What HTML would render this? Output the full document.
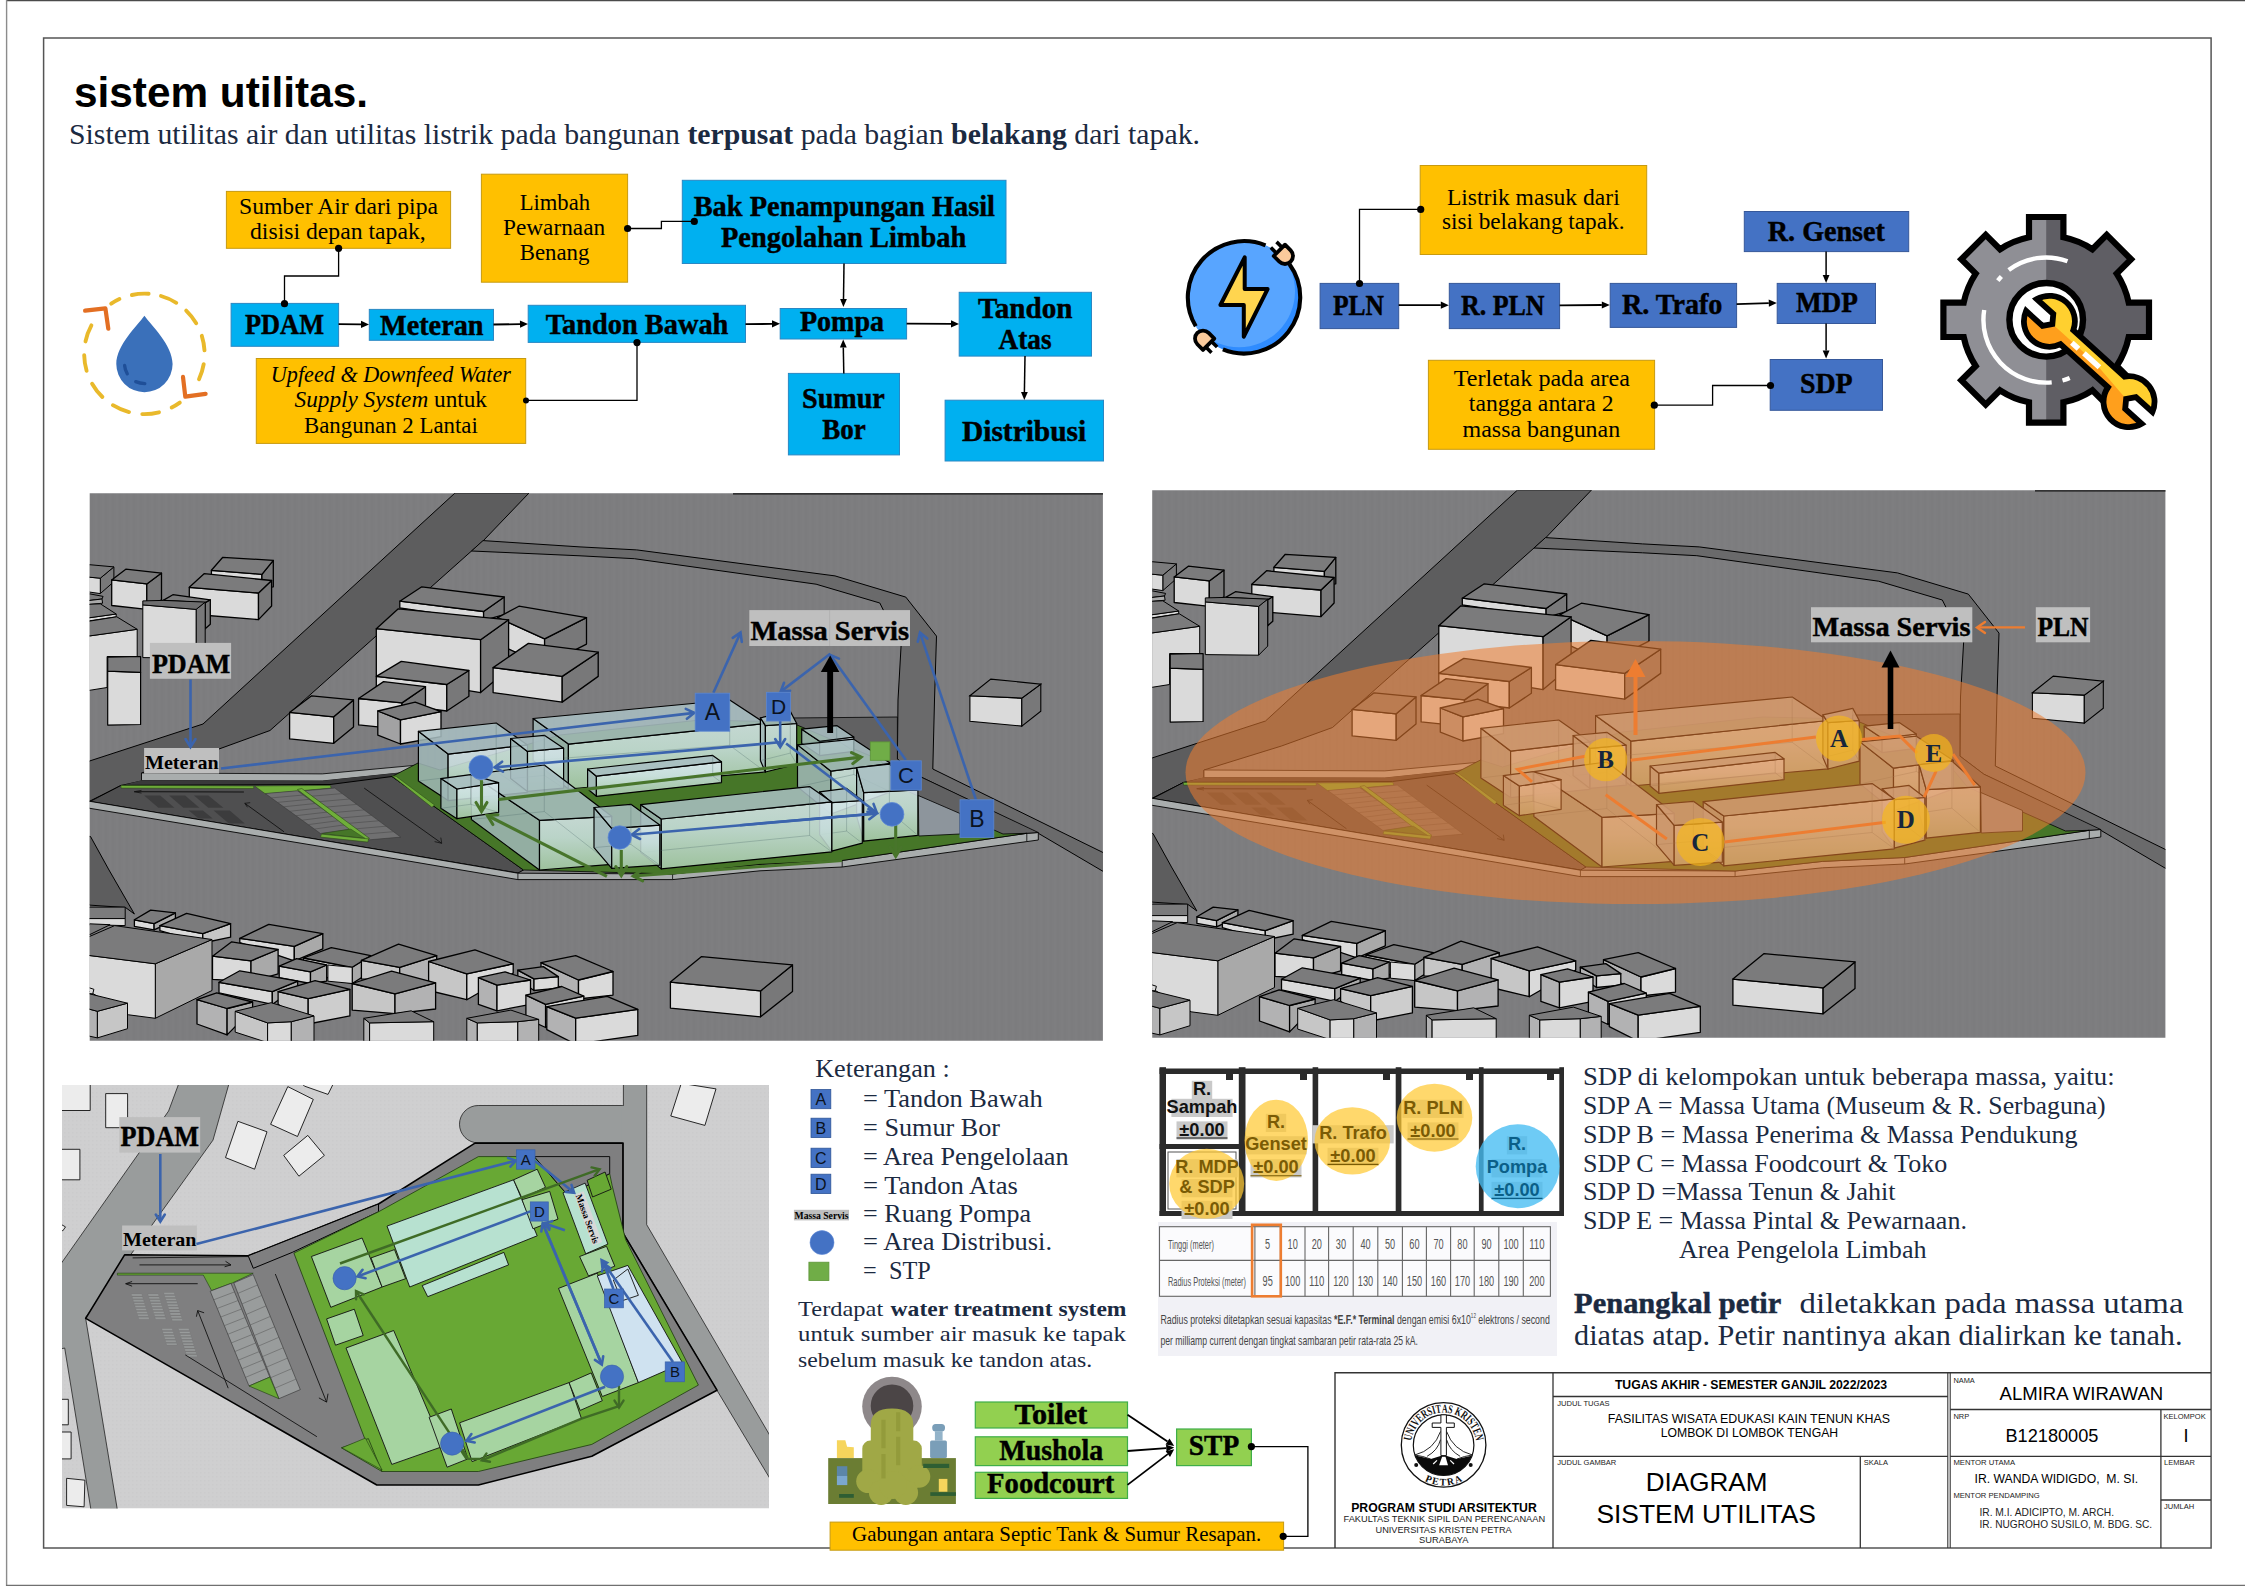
<!DOCTYPE html>
<html><head><meta charset="utf-8"><title>sistem utilitas</title>
<style>html,body{margin:0;padding:0;background:#fff}svg{display:block}text{white-space:pre}</style></head>
<body><svg width="2245" height="1587" viewBox="0 0 2245 1587">
<!-- sec_top -->
<rect x="0" y="0" width="2245" height="1587" fill="#fff"/>
<path d="M6,0.6 H2245" stroke="#4a4a4a" stroke-width="1.3" fill="none"/><path d="M6.6,0 V1586" stroke="#8c8c8c" stroke-width="1.4" fill="none"/><path d="M6,1585.4 H2245" stroke="#707070" stroke-width="1.4" fill="none"/>
<rect x="43.6" y="38" width="2167.5" height="1510" fill="none" stroke="#555" stroke-width="1.5"/>
<text x="74" y="107" fill="#000" font-family="Liberation Sans" font-size="42" font-weight="bold" textLength="294" lengthAdjust="spacingAndGlyphs" xml:space="preserve">sistem utilitas.</text>
<text x="69" y="143.5" fill="#1b2a41" font-family="Liberation Serif" font-size="28.5" textLength="1131" lengthAdjust="spacingAndGlyphs" xml:space="preserve">Sistem utilitas air dan utilitas listrik pada bangunan <tspan font-weight="bold">terpusat</tspan> pada bagian <tspan font-weight="bold">belakang</tspan> dari tapak.</text>
<rect x="226.4" y="191.4" width="224.2" height="56.9" fill="#FFC000" stroke="#c79a10" stroke-width="1"/>
<text x="239" y="214.4" fill="#000" font-family="Liberation Serif" font-size="22.8" textLength="199" lengthAdjust="spacingAndGlyphs" xml:space="preserve">Sumber Air dari pipa</text>
<text x="250" y="239.3" fill="#000" font-family="Liberation Serif" font-size="22.8" textLength="175.7" lengthAdjust="spacingAndGlyphs" xml:space="preserve">disisi depan tapak,</text>
<rect x="481.4" y="174.2" width="146.2" height="108" fill="#FFC000" stroke="#c79a10" stroke-width="1"/>
<text x="519.7" y="210" fill="#000" font-family="Liberation Serif" font-size="22.8" textLength="70.3" lengthAdjust="spacingAndGlyphs" xml:space="preserve">Limbah</text>
<text x="503" y="234.7" fill="#000" font-family="Liberation Serif" font-size="22.8" textLength="102.2" lengthAdjust="spacingAndGlyphs" xml:space="preserve">Pewarnaan</text>
<text x="519.7" y="260" fill="#000" font-family="Liberation Serif" font-size="22.8" textLength="69.7" lengthAdjust="spacingAndGlyphs" xml:space="preserve">Benang</text>
<rect x="256.3" y="358.5" width="269.4" height="84.9" fill="#FFC000" stroke="#c79a10" stroke-width="1"/>
<text x="270.8" y="382" fill="#000" font-family="Liberation Serif" font-size="22.8" font-style="italic" textLength="240.2" lengthAdjust="spacingAndGlyphs" xml:space="preserve">Upfeed &amp; Downfeed Water</text>
<text x="294.5" y="407.4" font-family="Liberation Serif" font-size="22.8" textLength="192.5" lengthAdjust="spacingAndGlyphs" xml:space="preserve"><tspan font-style="italic">Supply System</tspan> untuk</text>
<text x="304" y="432.9" fill="#000" font-family="Liberation Serif" font-size="22.8" textLength="173.8" lengthAdjust="spacingAndGlyphs" xml:space="preserve">Bangunan 2 Lantai</text>
<rect x="231.1" y="303.4" width="107.5" height="42.9" fill="#00B0F0" stroke="#2a88c4" stroke-width="1"/>
<text x="245" y="333.9" fill="#000" font-family="Liberation Serif" font-size="28.5" font-weight="bold" stroke="#000" stroke-width="0.45" textLength="79" lengthAdjust="spacingAndGlyphs" xml:space="preserve">PDAM</text>
<rect x="369.3" y="309.4" width="124.2" height="30.9" fill="#00B0F0" stroke="#2a88c4" stroke-width="1"/>
<text x="380" y="334.6" fill="#000" font-family="Liberation Serif" font-size="28.5" font-weight="bold" stroke="#000" stroke-width="0.45" textLength="103.5" lengthAdjust="spacingAndGlyphs" xml:space="preserve">Meteran</text>
<rect x="528.2" y="305.3" width="217.3" height="37.1" fill="#00B0F0" stroke="#2a88c4" stroke-width="1"/>
<text x="545.8" y="333.5" fill="#000" font-family="Liberation Serif" font-size="28.5" font-weight="bold" stroke="#000" stroke-width="0.45" textLength="182.6" lengthAdjust="spacingAndGlyphs" xml:space="preserve">Tandon Bawah</text>
<rect x="780.2" y="308.5" width="126.4" height="30.5" fill="#00B0F0" stroke="#2a88c4" stroke-width="1"/>
<text x="800" y="331.4" fill="#000" font-family="Liberation Serif" font-size="28.5" font-weight="bold" stroke="#000" stroke-width="0.45" textLength="84" lengthAdjust="spacingAndGlyphs" xml:space="preserve">Pompa</text>
<rect x="959.2" y="292.3" width="132.3" height="63.8" fill="#00B0F0" stroke="#2a88c4" stroke-width="1"/>
<text x="978" y="317.9" fill="#000" font-family="Liberation Serif" font-size="28.5" font-weight="bold" stroke="#000" stroke-width="0.45" textLength="94.4" lengthAdjust="spacingAndGlyphs" xml:space="preserve">Tandon</text>
<text x="998.6" y="349" fill="#000" font-family="Liberation Serif" font-size="28.5" font-weight="bold" stroke="#000" stroke-width="0.45" textLength="53" lengthAdjust="spacingAndGlyphs" xml:space="preserve">Atas</text>
<rect x="788.4" y="373.4" width="111.1" height="81.5" fill="#00B0F0" stroke="#2a88c4" stroke-width="1"/>
<text x="802" y="407.5" fill="#000" font-family="Liberation Serif" font-size="28.5" font-weight="bold" stroke="#000" stroke-width="0.45" textLength="82.8" lengthAdjust="spacingAndGlyphs" xml:space="preserve">Sumur</text>
<text x="822.2" y="439.3" fill="#000" font-family="Liberation Serif" font-size="28.5" font-weight="bold" stroke="#000" stroke-width="0.45" textLength="43.5" lengthAdjust="spacingAndGlyphs" xml:space="preserve">Bor</text>
<rect x="945.1" y="400.2" width="158.4" height="60.8" fill="#00B0F0" stroke="#2a88c4" stroke-width="1"/>
<text x="962" y="440.8" fill="#000" font-family="Liberation Serif" font-size="28.5" font-weight="bold" stroke="#000" stroke-width="0.45" textLength="124.2" lengthAdjust="spacingAndGlyphs" xml:space="preserve">Distribusi</text>
<rect x="682.3" y="180.3" width="323.7" height="83.2" fill="#00B0F0" stroke="#2a88c4" stroke-width="1"/>
<text x="693.7" y="215.9" fill="#000" font-family="Liberation Serif" font-size="29.5" font-weight="bold" stroke="#000" stroke-width="0.45" textLength="301.3" lengthAdjust="spacingAndGlyphs" xml:space="preserve">Bak Penampungan Hasil</text>
<text x="721" y="247.3" fill="#000" font-family="Liberation Serif" font-size="29.5" font-weight="bold" stroke="#000" stroke-width="0.45" textLength="245.2" lengthAdjust="spacingAndGlyphs" xml:space="preserve">Pengolahan Limbah</text>
<polyline points="338.6,248.3 338.6,276 284.5,276 284.5,303.7" fill="none" stroke="#000" stroke-width="1.3"/>
<circle cx="338.6" cy="248.3" r="3.6" fill="#000"/>
<circle cx="284.5" cy="303.7" r="3.6" fill="#000"/>
<polyline points="627.6,228.5 661.4,228.5 661.4,221.4 694.3,221.4" fill="none" stroke="#000" stroke-width="1.3"/>
<circle cx="627.6" cy="228.5" r="3.6" fill="#000"/>
<circle cx="694.3" cy="221.4" r="3.6" fill="#000"/>
<polyline points="525.7,400.4 637,400.4 637,342.6" fill="none" stroke="#000" stroke-width="1.3"/>
<circle cx="526" cy="400.4" r="3" fill="#000"/>
<circle cx="637" cy="342.6" r="3.6" fill="#000"/>
<polyline points="338.6,324.1 361,324.3" fill="none" stroke="#000" stroke-width="1.8"/>
<polygon points="369,324.4 361,327.9 361,320.7" fill="#000"/>
<polyline points="493.5,324.5 520,324.1" fill="none" stroke="#000" stroke-width="1.8"/>
<polygon points="528,324 520.1,327.7 519.9,320.5" fill="#000"/>
<polyline points="745.5,324.2 772,323.9" fill="none" stroke="#000" stroke-width="1.8"/>
<polygon points="780,323.8 772,327.5 772,320.3" fill="#000"/>
<polyline points="906.6,323.6 951,323.9" fill="none" stroke="#000" stroke-width="1.8"/>
<polygon points="959,323.9 951,327.5 951,320.3" fill="#000"/>
<polyline points="844,263.5 843.5,299" fill="none" stroke="#000" stroke-width="1.5"/>
<polygon points="843.4,307 840.1,299 846.9,299" fill="#000"/>
<polyline points="843.8,373.4 843.3,347.5" fill="none" stroke="#000" stroke-width="1.5"/>
<polygon points="843.2,339.5 846.7,347.4 839.9,347.6" fill="#000"/>
<polyline points="1025,356.1 1024.4,392" fill="none" stroke="#000" stroke-width="1.5"/>
<polygon points="1024.3,400 1021,391.9 1027.8,392.1" fill="#000"/>
<rect x="1420.2" y="165.5" width="226.5" height="89" fill="#FFC000" stroke="#c79a10" stroke-width="1"/>
<text x="1446.9" y="204.9" fill="#000" font-family="Liberation Serif" font-size="22.8" textLength="172.8" lengthAdjust="spacingAndGlyphs" xml:space="preserve">Listrik masuk dari</text>
<text x="1441.9" y="229.3" fill="#000" font-family="Liberation Serif" font-size="22.8" textLength="182.6" lengthAdjust="spacingAndGlyphs" xml:space="preserve">sisi belakang tapak.</text>
<rect x="1428.4" y="360.3" width="226.2" height="89" fill="#FFC000" stroke="#c79a10" stroke-width="1"/>
<text x="1453.8" y="386.2" fill="#000" font-family="Liberation Serif" font-size="22.8" textLength="176.2" lengthAdjust="spacingAndGlyphs" xml:space="preserve">Terletak pada area</text>
<text x="1468.8" y="411.4" fill="#000" font-family="Liberation Serif" font-size="22.8" textLength="144.7" lengthAdjust="spacingAndGlyphs" xml:space="preserve">tangga antara 2</text>
<text x="1462.6" y="437.4" fill="#000" font-family="Liberation Serif" font-size="22.8" textLength="157.6" lengthAdjust="spacingAndGlyphs" xml:space="preserve">massa bangunan</text>
<rect x="1320.1" y="283.4" width="78.6" height="45.2" fill="#4472C4" stroke="#36589a" stroke-width="1"/>
<text x="1332.9" y="314.6" fill="#000" font-family="Liberation Serif" font-size="28.5" font-weight="bold" stroke="#000" stroke-width="0.45" textLength="51.1" lengthAdjust="spacingAndGlyphs" xml:space="preserve">PLN</text>
<rect x="1449.3" y="283.4" width="110.3" height="45.2" fill="#4472C4" stroke="#36589a" stroke-width="1"/>
<text x="1461" y="314.6" fill="#000" font-family="Liberation Serif" font-size="28.5" font-weight="bold" stroke="#000" stroke-width="0.45" textLength="83.6" lengthAdjust="spacingAndGlyphs" xml:space="preserve">R. PLN</text>
<rect x="1610.2" y="283.4" width="126.4" height="44" fill="#4472C4" stroke="#36589a" stroke-width="1"/>
<text x="1621.9" y="314.4" fill="#000" font-family="Liberation Serif" font-size="28.5" font-weight="bold" stroke="#000" stroke-width="0.45" textLength="100.5" lengthAdjust="spacingAndGlyphs" xml:space="preserve">R. Trafo</text>
<rect x="1744.3" y="211.5" width="164.4" height="40.1" fill="#4472C4" stroke="#36589a" stroke-width="1"/>
<text x="1767.8" y="240.9" fill="#000" font-family="Liberation Serif" font-size="28.5" font-weight="bold" stroke="#000" stroke-width="0.45" textLength="117.1" lengthAdjust="spacingAndGlyphs" xml:space="preserve">R. Genset</text>
<rect x="1777.2" y="283.4" width="98.3" height="40.1" fill="#4472C4" stroke="#36589a" stroke-width="1"/>
<text x="1795.9" y="312.2" fill="#000" font-family="Liberation Serif" font-size="28.5" font-weight="bold" stroke="#000" stroke-width="0.45" textLength="62" lengthAdjust="spacingAndGlyphs" xml:space="preserve">MDP</text>
<rect x="1770.2" y="359.5" width="112.3" height="50.8" fill="#4472C4" stroke="#36589a" stroke-width="1"/>
<text x="1799.9" y="393.2" fill="#000" font-family="Liberation Serif" font-size="28.5" font-weight="bold" stroke="#000" stroke-width="0.45" textLength="52.7" lengthAdjust="spacingAndGlyphs" xml:space="preserve">SDP</text>
<polyline points="1420.7,209.4 1359.5,209.4 1359.5,283.5" fill="none" stroke="#000" stroke-width="1.3"/>
<circle cx="1420.7" cy="209.4" r="3.6" fill="#000"/>
<circle cx="1359.5" cy="283.5" r="3.6" fill="#000"/>
<polyline points="1654.3,405.2 1712.6,405.2 1712.6,385.5 1770.5,385.5" fill="none" stroke="#000" stroke-width="1.3"/>
<circle cx="1654.3" cy="405.2" r="3.6" fill="#000"/>
<circle cx="1770.5" cy="385.5" r="3.6" fill="#000"/>
<polyline points="1398.7,305.2 1440.8,305.2" fill="none" stroke="#000" stroke-width="1.8"/>
<polygon points="1448.8,305.2 1440.8,308.8 1440.8,301.6" fill="#000"/>
<polyline points="1559.6,305.4 1601.8,305" fill="none" stroke="#000" stroke-width="1.8"/>
<polygon points="1609.8,304.9 1601.8,308.6 1601.8,301.4" fill="#000"/>
<polyline points="1736.6,304.2 1768.8,303.2" fill="none" stroke="#000" stroke-width="1.8"/>
<polygon points="1776.8,302.9 1768.9,306.8 1768.7,299.6" fill="#000"/>
<polyline points="1826.1,251.6 1826.1,274.9" fill="none" stroke="#000" stroke-width="1.5"/>
<polygon points="1826.1,282.9 1822.7,274.9 1829.5,274.9" fill="#000"/>
<polyline points="1826.1,323.5 1826.1,350.6" fill="none" stroke="#000" stroke-width="1.5"/>
<polygon points="1826.1,358.6 1822.7,350.6 1829.5,350.6" fill="#000"/>
<!-- sec_icons -->
<path d="M131.9,295 A60.2,60.2 0 0 1 148.6,293.8 M161,296 A60.2,60.2 0 0 1 176.3,302.8 M186.2,310.6 A60.2,60.2 0 0 1 196.2,323.3 M201.8,335.8 A60.2,60.2 0 0 1 204.5,350.4 M203.7,364.1 A60.2,60.2 0 0 1 199,379.2 M179.8,402.6 A60.2,60.2 0 0 1 171.7,407.5 M159,412.3 A60.2,60.2 0 0 1 142.3,414.1 M129,412.1 A60.2,60.2 0 0 1 112.9,405.2 M102.4,397 A60.2,60.2 0 0 1 92.1,383.7 M86.6,370.8 A60.2,60.2 0 0 1 84.2,355.2 M85.5,341.4 A60.2,60.2 0 0 1 91.4,325.4 M111.2,303.7 A60.2,60.2 0 0 1 119.4,299.1" fill="none" stroke="#E9B92B" stroke-width="3.9" stroke-linecap="round"/>
<path d="M85.1,310.7 L105.4,308.4 L108.3,328.7 M183,376.9 L185.3,396.7 L205.6,393.9" fill="none" stroke="#E36F23" stroke-width="4.2" stroke-linecap="round" stroke-linejoin="round"/>
<path d="M144.4,315.7 C151,325 172.6,345 172.6,364 A28.1,28.1 0 0 1 116.3,364 C116.3,345 138,325 144.4,315.7 Z" fill="#3A70BA"/>
<path d="M124.6,365.5 Q125,370 127.3,373.8 M135.7,381.6 Q140,383.3 144.8,383.6" fill="none" stroke="#1F4F98" stroke-width="3.3" stroke-linecap="round"/>
<clipPath id="ecl"><circle cx="1244" cy="297.3" r="56.2"/></clipPath>
<circle cx="1244" cy="297.3" r="56.2" fill="#2F8CFF"/>
<circle cx="1239" cy="291.3" r="56" fill="#58A5FF" clip-path="url(#ecl)"/>
<path d="M1195.8,326.2 A56.2,56.2 0 0 1 1265.5,245.4 M1289.5,264.3 A56.2,56.2 0 0 1 1222.9,349.4" fill="none" stroke="#000" stroke-width="4.1"/>
<path d="M1244.7,257.3 L1244.7,289.1 L1267.6,289.1 L1243.8,336.7 L1243.8,305 L1220.4,305 Z" fill="#FFD54F" stroke="#000" stroke-width="4" stroke-linejoin="round"/>
<g transform="translate(1285,256) rotate(45)"><path d="M-8,-4 L-16,-4 M-8,4 L-16,4" stroke="#000" stroke-width="3.6" fill="none"/><path d="M-8,-8 L0,-8 A8,8 0 0 1 0,8 L-8,8 Z" fill="#FBCB9C" stroke="#000" stroke-width="3.8" stroke-linejoin="round"/></g>
<g transform="translate(1203,338.6) rotate(225)"><path d="M-8,-4 L-16,-4 M-8,4 L-16,4" stroke="#000" stroke-width="3.6" fill="none"/><path d="M-8,-8 L0,-8 A8,8 0 0 1 0,8 L-8,8 Z" fill="#FBCB9C" stroke="#000" stroke-width="3.8" stroke-linejoin="round"/></g>
<clipPath id="gl"><rect x="1900" y="180" width="146.2" height="280"/></clipPath>
<path d="M2029,237.3 L2029,217 L2063.4,217 L2063.4,237.3 A84.3,84.3 0 0 1 2092.4,249.3 L2106.7,234.9 L2131.1,259.3 L2116.7,273.6 A84.3,84.3 0 0 1 2128.7,302.6 L2149,302.6 L2149,337 L2128.7,337 A84.3,84.3 0 0 1 2116.7,366 L2131.1,380.3 L2106.7,404.7 L2092.4,390.3 A84.3,84.3 0 0 1 2063.4,402.3 L2063.4,422.6 L2029,422.6 L2029,402.3 A84.3,84.3 0 0 1 2000,390.3 L1985.7,404.7 L1961.3,380.3 L1975.7,366 A84.3,84.3 0 0 1 1963.7,337 L1943.4,337 L1943.4,302.6 L1963.7,302.6 A84.3,84.3 0 0 1 1975.7,273.6 L1961.3,259.3 L1985.7,234.9 L2000,249.3 A84.3,84.3 0 0 1 2029,237.3 Z" fill="#5F5E64"/>
<path d="M2029,237.3 L2029,217 L2063.4,217 L2063.4,237.3 A84.3,84.3 0 0 1 2092.4,249.3 L2106.7,234.9 L2131.1,259.3 L2116.7,273.6 A84.3,84.3 0 0 1 2128.7,302.6 L2149,302.6 L2149,337 L2128.7,337 A84.3,84.3 0 0 1 2116.7,366 L2131.1,380.3 L2106.7,404.7 L2092.4,390.3 A84.3,84.3 0 0 1 2063.4,402.3 L2063.4,422.6 L2029,422.6 L2029,402.3 A84.3,84.3 0 0 1 2000,390.3 L1985.7,404.7 L1961.3,380.3 L1975.7,366 A84.3,84.3 0 0 1 1963.7,337 L1943.4,337 L1943.4,302.6 L1963.7,302.6 A84.3,84.3 0 0 1 1975.7,273.6 L1961.3,259.3 L1985.7,234.9 L2000,249.3 A84.3,84.3 0 0 1 2029,237.3 Z" fill="#8F8F95" clip-path="url(#gl)"/>
<path d="M2029,237.3 L2029,217 L2063.4,217 L2063.4,237.3 A84.3,84.3 0 0 1 2092.4,249.3 L2106.7,234.9 L2131.1,259.3 L2116.7,273.6 A84.3,84.3 0 0 1 2128.7,302.6 L2149,302.6 L2149,337 L2128.7,337 A84.3,84.3 0 0 1 2116.7,366 L2131.1,380.3 L2106.7,404.7 L2092.4,390.3 A84.3,84.3 0 0 1 2063.4,402.3 L2063.4,422.6 L2029,422.6 L2029,402.3 A84.3,84.3 0 0 1 2000,390.3 L1985.7,404.7 L1961.3,380.3 L1975.7,366 A84.3,84.3 0 0 1 1963.7,337 L1943.4,337 L1943.4,302.6 L1963.7,302.6 A84.3,84.3 0 0 1 1975.7,273.6 L1961.3,259.3 L1985.7,234.9 L2000,249.3 A84.3,84.3 0 0 1 2029,237.3 Z" fill="none" stroke="#000" stroke-width="6.2" stroke-linejoin="miter"/>
<path d="M1997.8,280.6 A62.3,62.3 0 0 1 2001.4,276.5 M2008.7,270 A62.3,62.3 0 0 1 2067.5,261.3 M2051.7,382.4 A62.8,62.8 0 0 1 1984.2,310 M2069.7,378 A62.8,62.8 0 0 1 2062.5,380.5" fill="none" stroke="#fff" stroke-width="4.4"/>
<circle cx="2046.2" cy="319.8" r="36.8" fill="#fff" stroke="#000" stroke-width="6.4"/>
<g transform="translate(2049.4,321.3) rotate(42.2)"><clipPath id="wy"><polygon points="-40,-40 180,-40 180,6 109,6 60,0 -40,0"/></clipPath><path d="M-24.2,-8 A25.5,25.5 0 0 1 23.66,-9.5 L92.8,-9.5 A25.5,25.5 0 0 1 137.2,-2 L115,-2 L109,6 L115,14 L137.2,14 A25.5,25.5 0 0 1 87.7,9.5 L23.66,9.5 A25.5,25.5 0 0 1 -24.2,8 L-2,8 L4,0 L-2,-8 Z" fill="#FF9F1C"/><path d="M-24.2,-8 A25.5,25.5 0 0 1 23.66,-9.5 L92.8,-9.5 A25.5,25.5 0 0 1 137.2,-2 L115,-2 L109,6 L115,14 L137.2,14 A25.5,25.5 0 0 1 87.7,9.5 L23.66,9.5 A25.5,25.5 0 0 1 -24.2,8 L-2,8 L4,0 L-2,-8 Z" fill="#FFD02F" clip-path="url(#wy)"/><path d="M31,0.8 L40,0.8 M47,0.5 L68,0.5" stroke="#fff" stroke-width="5.4" fill="none"/><path d="M-24.2,-8 A25.5,25.5 0 0 1 23.66,-9.5 L92.8,-9.5 A25.5,25.5 0 0 1 137.2,-2 L115,-2 L109,6 L115,14 L137.2,14 A25.5,25.5 0 0 1 87.7,9.5 L23.66,9.5 A25.5,25.5 0 0 1 -24.2,8 L-2,8 L4,0 L-2,-8 Z" fill="none" stroke="#000" stroke-width="5.8" stroke-linejoin="miter"/></g>
<!-- sec_scene -->
<defs><pattern id="vst" width="7" height="8" patternUnits="userSpaceOnUse"><rect x="0" y="0" width="2.5" height="8" fill="#000" opacity="0.008"/><rect x="4" y="0" width="1.5" height="8" fill="#fff" opacity="0.007"/></pattern>
<linearGradient id="gfr" x1="0" y1="0" x2="0" y2="1"><stop offset="0" stop-color="#d9e8ee"/><stop offset="0.4" stop-color="#cde3e2"/><stop offset="1" stop-color="#acceb0"/></linearGradient>
<clipPath id="sclip"><rect x="89.7" y="493.3" width="1013.2" height="547.4"/></clipPath>
<g id="scn">
<rect x="89" y="492" width="1015" height="550" fill="#7d7d7f"/>
<rect x="89" y="492" width="1015" height="550" fill="url(#vst)"/>
<polygon points="455,493 529,493 483,541 471.5,551 270,730.5 219,749 141.5,773 141.5,781 121,785.5 88,802 88,761.5 203,724" fill="#5d5d5e" stroke="#000" stroke-width="1"/>
<polygon points="483,540.6 580,546.9 636.7,549.9 835,575.9 905.8,597.1 936.5,636.1 934.5,700 932.8,769 1105,853.5 1105,872.5 1038.3,833.3 921.3,777.2 897.4,759.1 898,700 901.1,645.5 879.8,603 816.1,584.2 634.3,558.7 580,555.8 471.5,551" fill="#6a6a6b" stroke="#000" stroke-width="1"/>
<polygon points="88,836 90.5,836.5 109,870 134.4,914 125.5,907.5 88,905" fill="#5d5d5e" stroke="#000" stroke-width="1"/>
<polygon points="141.5,773 322.3,773.9 418.5,765 418.5,771 322.3,781 141.5,780.5" fill="#a9adad" stroke="#000" stroke-width="0.8"/>
<polygon points="121,785.8 141.5,780.2 322.3,780.7 418.5,770.7 434,777 392,777.5 330,785.2" fill="#39393a"/>
<polygon points="90,801.5 121,785.4 330,784.5 392,776.5 433.7,806 523.5,870 518,873 400,853.2" fill="#4f4f50" stroke="#000" stroke-width="1"/>
<polygon points="88,801 400,853.2 517.9,873.2 672.6,874 760,864.4 842.2,860.5 1026.8,833.3 1038.3,832.5 1038.3,840 842.2,867 760,870.8 672.6,879.6 517.9,879.6 400,859.6 88,808" fill="#a9adad" stroke="#000" stroke-width="0.9"/>
<polyline points="517.9,873.2 517.9,879.6" fill="none" stroke="#000" stroke-width="0.8"/>
<polyline points="672.6,874 672.6,879.6" fill="none" stroke="#000" stroke-width="0.8"/>
<polyline points="842.2,860.5 842.2,867" fill="none" stroke="#000" stroke-width="0.8"/>
<polyline points="1026.8,833.3 1026.8,841" fill="none" stroke="#000" stroke-width="0.8"/>
<polygon points="790,718 897.4,717 897.4,759.1 921.3,777.2 1038.3,832.5 1026.8,833.3 1000,836 880,790 790,745" fill="#616162" stroke="#000" stroke-width="0.8"/>
<polygon points="392,776.5 418,763 440,770 560,735 700,720 790,722 880,760 905,790 960,815 1003,834 1026.8,833.3 842.2,860.5 760,864.4 672.6,874 523.5,870" fill="#467628" stroke="#000" stroke-width="0.8"/>
<polygon points="121,785.4 253.7,786 253.7,788.5 121,788.1" fill="#6fae3a" stroke="#2d4d18" stroke-width="0.6"/>
<polygon points="254.6,786 330.3,785.4 331.2,788.1 265.3,793.8" fill="#6fae3a" stroke="#2d4d18" stroke-width="0.6"/>
<polygon points="265.3,793.5 297.4,790.8 350.8,829.1 320.5,833.5" fill="#707071" stroke="#333" stroke-width="0.5"/>
<polygon points="304.5,790.8 334.8,788.1 400.7,837.1 369.5,839.8" fill="#707071" stroke="#333" stroke-width="0.5"/>
<polyline points="271.4,797.9 303.3,795" fill="none" stroke="#444" stroke-width="0.5"/>
<polyline points="311.7,796.2 342.1,793.6" fill="none" stroke="#444" stroke-width="0.5"/>
<polyline points="277.6,802.4 309.3,799.3" fill="none" stroke="#444" stroke-width="0.5"/>
<polyline points="319,801.7 349.4,799" fill="none" stroke="#444" stroke-width="0.5"/>
<polyline points="283.7,806.8 315.2,803.5" fill="none" stroke="#444" stroke-width="0.5"/>
<polyline points="326.2,807.1 356.8,804.4" fill="none" stroke="#444" stroke-width="0.5"/>
<polyline points="289.8,811.3 321.1,807.8" fill="none" stroke="#444" stroke-width="0.5"/>
<polyline points="333.4,812.6 364.1,809.9" fill="none" stroke="#444" stroke-width="0.5"/>
<polyline points="296,815.7 327.1,812.1" fill="none" stroke="#444" stroke-width="0.5"/>
<polyline points="340.6,818 371.4,815.3" fill="none" stroke="#444" stroke-width="0.5"/>
<polyline points="302.1,820.2 333,816.3" fill="none" stroke="#444" stroke-width="0.5"/>
<polyline points="347.9,823.4 378.7,820.8" fill="none" stroke="#444" stroke-width="0.5"/>
<polyline points="308.3,824.6 338.9,820.6" fill="none" stroke="#444" stroke-width="0.5"/>
<polyline points="355.1,828.9 386.1,826.2" fill="none" stroke="#444" stroke-width="0.5"/>
<polyline points="314.4,829.1 344.9,824.8" fill="none" stroke="#444" stroke-width="0.5"/>
<polyline points="362.3,834.3 393.4,831.7" fill="none" stroke="#444" stroke-width="0.5"/>
<polygon points="297.4,789.5 301.8,788.5 369.5,838.4 365.1,841.2" fill="#6fae3a" stroke="#2d4d18" stroke-width="0.6"/>
<polygon points="322.3,833.5 350.8,829.1 365.1,838.4" fill="#467628" stroke="#2d4d18" stroke-width="0.5"/>
<polygon points="321.4,834.1 368.6,838.9 367.8,842.1 320.5,837.1" fill="#6fae3a" stroke="#2d4d18" stroke-width="0.6"/>
<polygon points="391.8,775.6 396.3,776.5 434.6,805 431.9,807.3" fill="#6fae3a" stroke="#2d4d18" stroke-width="0.6"/>
<polygon points="144.1,795.6 160.2,795.6 174.4,807.7 158.4,807.7" fill="#3c3c3d"/>
<polygon points="169.1,795.6 185.1,795.6 199.4,807.7 183.3,807.7" fill="#3c3c3d"/>
<polygon points="194,795.6 208.3,795.6 223.4,807.7 208.3,807.7" fill="#3c3c3d"/>
<polygon points="188.7,810.4 202.9,810.4 212.7,818.4 198.5,818.4" fill="#3c3c3d"/>
<polygon points="213.6,810.4 229.7,810.4 244.8,823.4 228.8,823.4" fill="#3c3c3d"/>
<polyline points="134.3,791.7 243.9,792" fill="none" stroke="#111" stroke-width="1"/>
<polyline points="141.5,790.4 134.3,791.7 141.5,793.1" fill="none" stroke="#111" stroke-width="0.8"/>
<polyline points="284,831.8 244.8,803.3" fill="none" stroke="#111" stroke-width="0.9"/>
<polyline points="247.5,807.3 244.8,803.3 250.2,802.7" fill="none" stroke="#111" stroke-width="0.8"/>
<polyline points="364.2,788.1 441.7,843.3" fill="none" stroke="#111" stroke-width="0.9"/>
<polyline points="434.6,841.6 441.7,843.3 440.8,837.6" fill="none" stroke="#111" stroke-width="0.8"/>
<polygon points="100.3,578.2 113.9,566.9 113.9,581.7 100.3,593.6" fill="#787879" stroke="#000" stroke-width="1"/>
<polygon points="88.4,577.1 100.3,578.2 100.3,593.6 88.4,591.9" fill="#dadada" stroke="#000" stroke-width="1"/>
<polygon points="88.4,564.6 113.9,566.9 100.3,578.2 88.4,577.1" fill="#7b7b7c" stroke="#000" stroke-width="1"/>
<polygon points="88.4,593.6 103.1,596.4 102,599 88.4,600.6" fill="#7b7b7c" stroke="#000" stroke-width="1"/>
<polygon points="88.4,600.6 102,599 102.6,603.2 88.4,604.6" fill="#a9a9a9" stroke="#000" stroke-width="1"/>
<polygon points="111.7,579.9 146.8,583.9 146.8,609.4 111.7,605.5" fill="#dadada" stroke="#000" stroke-width="1.3" stroke-linejoin="round"/>
<polygon points="146.8,583.9 161.5,573.1 161.5,599.8 146.8,609.4" fill="#787879" stroke="#000" stroke-width="1.3" stroke-linejoin="round"/>
<polygon points="111.7,579.9 125.8,569.2 161.5,573.1 146.8,583.9" fill="#7b7b7c" stroke="#000" stroke-width="1.3" stroke-linejoin="round"/>
<polygon points="211.4,570.3 261.9,574.3 261.9,587.9 211.4,577.1" fill="#dadada" stroke="#000" stroke-width="1.3" stroke-linejoin="round"/>
<polygon points="261.9,574.3 273.3,560.4 273.3,586.8 261.9,587.9" fill="#787879" stroke="#000" stroke-width="1.3" stroke-linejoin="round"/>
<polygon points="211.4,570.3 222.8,557.3 273.3,560.4 261.9,574.3" fill="#7b7b7c" stroke="#000" stroke-width="1.3" stroke-linejoin="round"/>
<polygon points="189.3,587.3 258.5,593 258.5,619.6 189.3,614" fill="#dadada" stroke="#000" stroke-width="1.3" stroke-linejoin="round"/>
<polygon points="258.5,593 271.6,580.5 271.6,606 258.5,619.6" fill="#787879" stroke="#000" stroke-width="1.3" stroke-linejoin="round"/>
<polygon points="189.3,587.3 204.1,573.7 271.6,580.5 258.5,593" fill="#7b7b7c" stroke="#000" stroke-width="1.3" stroke-linejoin="round"/>
<polygon points="163.2,600.4 205.2,602.6 205.2,628.7 163.2,626.4" fill="#dadada" stroke="#000" stroke-width="1.3" stroke-linejoin="round"/>
<polygon points="205.2,602.6 210.3,599.8 210.3,624.2 205.2,628.7" fill="#787879" stroke="#000" stroke-width="1.3" stroke-linejoin="round"/>
<polygon points="163.2,600.4 172.9,594.7 210.3,599.8 205.2,602.6" fill="#7b7b7c" stroke="#000" stroke-width="1.3" stroke-linejoin="round"/>
<polygon points="196.1,609.4 205.2,602.1 205.2,649.1 196.1,658.2" fill="#787879" stroke="#000" stroke-width="1"/>
<polygon points="142.8,604.9 196.1,609.4 196.1,658.2 142.8,657.6" fill="#dadada" stroke="#000" stroke-width="1"/>
<polygon points="142.8,600.9 163.2,600.4 205.2,602.1 196.1,609.4 142.8,604.9" fill="#6e6e6f" stroke="#000" stroke-width="1"/>
<polygon points="88.4,617.9 116.2,614 116.2,616.8 88.4,621" fill="#dadada" stroke="#000" stroke-width="1"/>
<polygon points="88.4,604.3 100.3,603.8 116.2,614 88.4,617.9" fill="#7b7b7c" stroke="#000" stroke-width="1"/>
<polygon points="88.4,636.1 137.2,629.3 137.2,656.5 107.1,656.5 107.1,687.5 88.4,690.5" fill="#dadada" stroke="#000" stroke-width="1"/>
<polygon points="88.4,621.3 116.8,616.8 137.2,629.3 88.4,636.1" fill="#7b7b7c" stroke="#000" stroke-width="1"/>
<polygon points="107.7,671.2 140.6,672.4 140.6,724.5 107.7,725.1" fill="#dadada" stroke="#000" stroke-width="1.2" stroke-linejoin="round"/>
<polygon points="107.7,657.1 140.6,656.5 140.6,672.4 107.7,671.2" fill="#7b7b7c" stroke="#000" stroke-width="1.2" stroke-linejoin="round"/>
<polygon points="399.8,601.2 483.6,611.5 483.6,620.3 399.8,607.8" fill="#dadada" stroke="#000" stroke-width="1.3" stroke-linejoin="round"/>
<polygon points="483.6,611.5 504.2,597 504.2,614.7 483.6,620.3" fill="#787879" stroke="#000" stroke-width="1.3" stroke-linejoin="round"/>
<polygon points="399.8,601.2 421.8,586.8 504.2,597 483.6,611.5" fill="#7b7b7c" stroke="#000" stroke-width="1.3" stroke-linejoin="round"/>
<polygon points="497.6,617.6 544.6,638.9 544.6,665.4 497.6,644.1" fill="#dadada" stroke="#000" stroke-width="1.3" stroke-linejoin="round"/>
<polygon points="544.6,638.9 586.5,617.6 586.5,644.1 544.6,665.4" fill="#787879" stroke="#000" stroke-width="1.3" stroke-linejoin="round"/>
<polygon points="497.6,617.6 518.9,606.2 586.5,617.6 544.6,638.9" fill="#7b7b7c" stroke="#000" stroke-width="1.3" stroke-linejoin="round"/>
<polygon points="376.3,628.7 480.6,639.7 480.6,692.6 376.3,675.7" fill="#dadada" stroke="#000" stroke-width="1.3" stroke-linejoin="round"/>
<polygon points="480.6,639.7 508.6,619.8 508.6,669.1 480.6,692.6" fill="#787879" stroke="#000" stroke-width="1.3" stroke-linejoin="round"/>
<polygon points="376.3,628.7 398.3,608.8 508.6,619.8 480.6,639.7" fill="#7b7b7c" stroke="#000" stroke-width="1.3" stroke-linejoin="round"/>
<polygon points="493.1,667.6 562.2,676.4 562.2,702.1 493.1,692.6" fill="#dadada" stroke="#000" stroke-width="1.3" stroke-linejoin="round"/>
<polygon points="562.2,676.4 598.2,652.2 598.2,676.4 562.2,702.1" fill="#787879" stroke="#000" stroke-width="1.3" stroke-linejoin="round"/>
<polygon points="493.1,667.6 528.4,643.4 598.2,652.2 562.2,676.4" fill="#7b7b7c" stroke="#000" stroke-width="1.3" stroke-linejoin="round"/>
<polygon points="376.3,676.4 446.8,684.5 446.8,711 376.3,702.1" fill="#dadada" stroke="#000" stroke-width="1.3" stroke-linejoin="round"/>
<polygon points="446.8,684.5 468.9,670.5 468.9,696.3 446.8,711" fill="#787879" stroke="#000" stroke-width="1.3" stroke-linejoin="round"/>
<polygon points="376.3,676.4 401.3,661.4 468.9,670.5 446.8,684.5" fill="#7b7b7c" stroke="#000" stroke-width="1.3" stroke-linejoin="round"/>
<polygon points="358.6,698.5 402,702.9 402,729.3 358.6,724.9" fill="#dadada" stroke="#000" stroke-width="1.3" stroke-linejoin="round"/>
<polygon points="402,702.9 425.5,686.7 425.5,705.1 402,729.3" fill="#787879" stroke="#000" stroke-width="1.3" stroke-linejoin="round"/>
<polygon points="358.6,698.5 383.6,681.6 425.5,686.7 402,702.9" fill="#7b7b7c" stroke="#000" stroke-width="1.3" stroke-linejoin="round"/>
<polygon points="377.8,711 400.5,719.8 400.5,744 377.8,735.2" fill="#a2a2a3" stroke="#000" stroke-width="1.3" stroke-linejoin="round"/>
<polygon points="400.5,719.8 441,711.7 441,736.7 400.5,744" fill="#dadada" stroke="#000" stroke-width="1.3" stroke-linejoin="round"/>
<polygon points="377.8,711 415.2,702.1 441,711.7 400.5,719.8" fill="#7b7b7c" stroke="#000" stroke-width="1.3" stroke-linejoin="round"/>
<polygon points="289.6,712.4 333.7,716.8 333.7,743.3 289.6,738.9" fill="#dadada" stroke="#000" stroke-width="1.3" stroke-linejoin="round"/>
<polygon points="333.7,716.8 353.5,699.9 353.5,727.1 333.7,743.3" fill="#787879" stroke="#000" stroke-width="1.3" stroke-linejoin="round"/>
<polygon points="289.6,712.4 311.6,695.8 353.5,699.9 333.7,716.8" fill="#7b7b7c" stroke="#000" stroke-width="1.3" stroke-linejoin="round"/>
<polygon points="969.9,695.7 1021.8,698.1 1021.8,726.1 969.9,721.2" fill="#dadada" stroke="#000" stroke-width="1.1"/>
<polygon points="1021.8,698.1 1040.8,684.1 1040.8,711.3 1021.8,726.1" fill="#787879" stroke="#000" stroke-width="1.1"/>
<polygon points="969.9,695.7 990.8,679.1 1040.8,684.1 1021.8,698.1" fill="#7b7b7c" stroke="#000" stroke-width="1.1"/>
<g fill-opacity="0.86">
<polygon points="533.1,718.5 568.4,744.1 568.4,789 533.1,760.5" fill="#9fb7b7" stroke="#000" stroke-width="1.2" stroke-linejoin="round"/>
<polygon points="568.4,744.1 765.5,723.5 765.5,771.9 568.4,789" fill="url(#gfr)" stroke="#000" stroke-width="1.2" stroke-linejoin="round"/>
<polygon points="533.1,718.5 729.7,700 765.5,723.5 568.4,744.1" fill="#a9bfc3" stroke="#000" stroke-width="1.2" stroke-linejoin="round"/>
</g>
<path d="M729.7,700 L729.7,745.3 L533.1,760.5 M729.7,745.3 L765.5,771.9" fill="none" stroke="#4f6b6b" stroke-opacity="0.45" stroke-width="0.7"/>
<g fill-opacity="0.86">
<polygon points="760.4,717.8 765.4,725.6 765.4,772 760.4,760.6" fill="#9fb7b7" stroke="#000" stroke-width="1.2" stroke-linejoin="round"/>
<polygon points="765.4,725.6 796.7,723.5 796.7,764.1 765.4,772" fill="url(#gfr)" stroke="#000" stroke-width="1.2" stroke-linejoin="round"/>
<polygon points="760.4,717.8 790.3,711.4 796.7,723.5 765.4,725.6" fill="#a9bfc3" stroke="#000" stroke-width="1.2" stroke-linejoin="round"/>
</g>
<path d="M790.3,711.4 L790.3,753.1 L760.4,760.6 M790.3,753.1 L796.7,764.1" fill="none" stroke="#4f6b6b" stroke-opacity="0.45" stroke-width="0.7"/>
<g fill-opacity="0.86">
<polygon points="801.7,729.2 819.6,741.3 819.6,755.6 801.7,743.5" fill="#9fb7b7" stroke="#000" stroke-width="1.2" stroke-linejoin="round"/>
<polygon points="819.6,741.3 853.8,737 853.8,751.3 819.6,755.6" fill="url(#gfr)" stroke="#000" stroke-width="1.2" stroke-linejoin="round"/>
<polygon points="801.7,729.2 836.7,725.6 853.8,737 819.6,741.3" fill="#a9bfc3" stroke="#000" stroke-width="1.2" stroke-linejoin="round"/>
</g>
<path d="M836.7,725.6 L836.7,739.9 L801.7,743.5 M836.7,739.9 L853.8,751.3" fill="none" stroke="#4f6b6b" stroke-opacity="0.45" stroke-width="0.7"/>
<g fill-opacity="0.86">
<polygon points="797.5,744.9 831,771.2 831,814 797.5,786.9" fill="#9fb7b7" stroke="#000" stroke-width="1.2" stroke-linejoin="round"/>
<polygon points="831,771.2 890.8,763.4 890.8,791.9 831,814" fill="url(#gfr)" stroke="#000" stroke-width="1.2" stroke-linejoin="round"/>
<polygon points="797.5,744.9 853.8,739.2 890.8,763.4 831,771.2" fill="#a9bfc3" stroke="#000" stroke-width="1.2" stroke-linejoin="round"/>
</g>
<path d="M853.8,739.2 L853.8,774.5 L797.5,786.9 M853.8,774.5 L890.8,791.9" fill="none" stroke="#4f6b6b" stroke-opacity="0.45" stroke-width="0.7"/>
<g fill-opacity="0.86">
<polygon points="856.6,767.7 863.7,792.6 863.7,841.1 856.6,816.1" fill="#9fb7b7" stroke="#000" stroke-width="1.2" stroke-linejoin="round"/>
<polygon points="863.7,792.6 917.9,789.8 917.9,835.4 863.7,841.1" fill="url(#gfr)" stroke="#000" stroke-width="1.2" stroke-linejoin="round"/>
<polygon points="856.6,767.7 889.4,764.1 917.9,789.8 863.7,792.6" fill="#a9bfc3" stroke="#000" stroke-width="1.2" stroke-linejoin="round"/>
</g>
<path d="M889.4,764.1 L889.4,811.2 L856.6,816.1 M889.4,811.2 L917.9,835.4" fill="none" stroke="#4f6b6b" stroke-opacity="0.45" stroke-width="0.7"/>
<polygon points="918.3,795.5 960,813.5 960,834 918.8,836" fill="#8d959c" stroke="#000" stroke-width="0.8"/>
<g fill-opacity="0.86">
<polygon points="418.4,731.3 448.1,754.1 448.1,800.6 418.4,781" fill="#9fb7b7" stroke="#000" stroke-width="1.2" stroke-linejoin="round"/>
<polygon points="448.1,754.1 527.5,744.9 527.5,792.3 448.1,800.6" fill="url(#gfr)" stroke="#000" stroke-width="1.2" stroke-linejoin="round"/>
<polygon points="418.4,731.3 496.2,723 527.5,744.9 448.1,754.1" fill="#a9bfc3" stroke="#000" stroke-width="1.2" stroke-linejoin="round"/>
</g>
<path d="M496.2,723 L496.2,771.5 L418.4,781 M496.2,771.5 L527.5,792.3" fill="none" stroke="#4f6b6b" stroke-opacity="0.45" stroke-width="0.7"/>
<g fill-opacity="0.86">
<polygon points="510.6,738.5 527.5,751.4 527.5,791.4 510.6,778.6" fill="#9fb7b7" stroke="#000" stroke-width="1.2" stroke-linejoin="round"/>
<polygon points="527.5,751.4 563.6,748.2 563.6,788.2 527.5,791.4" fill="url(#gfr)" stroke="#000" stroke-width="1.2" stroke-linejoin="round"/>
<polygon points="510.6,738.5 544.3,735.3 563.6,748.2 527.5,751.4" fill="#a9bfc3" stroke="#000" stroke-width="1.2" stroke-linejoin="round"/>
</g>
<path d="M544.3,735.3 L544.3,775.4 L510.6,778.6 M544.3,775.4 L563.6,788.2" fill="none" stroke="#4f6b6b" stroke-opacity="0.45" stroke-width="0.7"/>
<g fill-opacity="0.86">
<polygon points="587.6,769 596.4,776.2 596.4,796.3 587.6,789" fill="#9fb7b7" stroke="#000" stroke-width="1.2" stroke-linejoin="round"/>
<polygon points="596.4,776.2 721.5,761.8 721.5,782.6 596.4,796.3" fill="url(#gfr)" stroke="#000" stroke-width="1.2" stroke-linejoin="round"/>
<polygon points="587.6,769 712.7,755.4 721.5,761.8 596.4,776.2" fill="#a9bfc3" stroke="#000" stroke-width="1.2" stroke-linejoin="round"/>
</g>
<path d="M712.7,755.4 L712.7,775.8 L587.6,789 M712.7,775.8 L721.5,782.6" fill="none" stroke="#4f6b6b" stroke-opacity="0.45" stroke-width="0.7"/>
<g fill-opacity="0.86">
<polygon points="471.4,774.6 539.5,820.3 539.5,870 471.4,819.5" fill="#9fb7b7" stroke="#000" stroke-width="1.2" stroke-linejoin="round"/>
<polygon points="539.5,820.3 611.7,816.3 611.7,864.4 539.5,870" fill="url(#gfr)" stroke="#000" stroke-width="1.2" stroke-linejoin="round"/>
<polygon points="471.4,774.6 544.3,765 611.7,816.3 539.5,820.3" fill="#a9bfc3" stroke="#000" stroke-width="1.2" stroke-linejoin="round"/>
</g>
<path d="M544.3,765 L544.3,811.5 L471.4,819.5 M544.3,811.5 L611.7,864.4" fill="none" stroke="#4f6b6b" stroke-opacity="0.45" stroke-width="0.7"/>
<g fill-opacity="0.86">
<polygon points="440.9,778.6 456.9,789 456.9,818.7 440.9,808.3" fill="#9fb7b7" stroke="#000" stroke-width="1.2" stroke-linejoin="round"/>
<polygon points="456.9,789 498.6,782.6 498.6,812.3 456.9,818.7" fill="url(#gfr)" stroke="#000" stroke-width="1.2" stroke-linejoin="round"/>
<polygon points="440.9,778.6 470.6,774.6 498.6,782.6 456.9,789" fill="#a9bfc3" stroke="#000" stroke-width="1.2" stroke-linejoin="round"/>
</g>
<path d="M470.6,774.6 L470.6,804.3 L440.9,808.3 M470.6,804.3 L498.6,812.3" fill="none" stroke="#4f6b6b" stroke-opacity="0.45" stroke-width="0.7"/>
<g fill-opacity="0.86">
<polygon points="819.6,791.9 831.7,802.6 831.7,851.1 819.6,834.7" fill="#9fb7b7" stroke="#000" stroke-width="1.2" stroke-linejoin="round"/>
<polygon points="831.7,802.6 862.3,800.5 862.3,843.2 831.7,851.1" fill="url(#gfr)" stroke="#000" stroke-width="1.2" stroke-linejoin="round"/>
<polygon points="819.6,791.9 846.6,788.4 862.3,800.5 831.7,802.6" fill="#a9bfc3" stroke="#000" stroke-width="1.2" stroke-linejoin="round"/>
</g>
<path d="M846.6,788.4 L846.6,831.1 L819.6,834.7 M846.6,831.1 L862.3,843.2" fill="none" stroke="#4f6b6b" stroke-opacity="0.45" stroke-width="0.7"/>
<g fill-opacity="0.86">
<polygon points="640.7,804.7 661.3,819 661.3,868.9 640.7,852.5" fill="#9fb7b7" stroke="#000" stroke-width="1.2" stroke-linejoin="round"/>
<polygon points="661.3,819 831.7,801.9 831.7,851.8 661.3,868.9" fill="url(#gfr)" stroke="#000" stroke-width="1.2" stroke-linejoin="round"/>
<polygon points="640.7,804.7 809.6,786.6 831.7,801.9 661.3,819" fill="#a9bfc3" stroke="#000" stroke-width="1.2" stroke-linejoin="round"/>
</g>
<path d="M809.6,786.6 L809.6,835.5 L640.7,852.5 M809.6,835.5 L831.7,851.8" fill="none" stroke="#4f6b6b" stroke-opacity="0.45" stroke-width="0.7"/>
<g fill-opacity="0.86">
<polygon points="594,807.5 611.7,828.3 611.7,868.4 594,847.6" fill="#9fb7b7" stroke="#000" stroke-width="1.2" stroke-linejoin="round"/>
<polygon points="611.7,828.3 659.8,825.1 659.8,865.2 611.7,868.4" fill="url(#gfr)" stroke="#000" stroke-width="1.2" stroke-linejoin="round"/>
<polygon points="594,807.5 630.9,804.3 659.8,825.1 611.7,828.3" fill="#a9bfc3" stroke="#000" stroke-width="1.2" stroke-linejoin="round"/>
</g>
<path d="M630.9,804.3 L630.9,844.4 L594,847.6 M630.9,844.4 L659.8,865.2" fill="none" stroke="#4f6b6b" stroke-opacity="0.45" stroke-width="0.7"/>
<polygon points="86.9,907.1 125.2,907.1 125.2,918.6 86.9,918.6" fill="#7b7b7c" stroke="#000" stroke-width="1"/>
<polygon points="86.9,918.6 125.2,918.6 125.2,925.6 86.9,924.7" fill="#dadada" stroke="#000" stroke-width="1"/>
<polygon points="86.9,923.7 110.1,924.7 86.9,936" fill="#7b7b7c" stroke="#000" stroke-width="1"/>
<polygon points="134.4,919.8 154.1,923.7 154.1,929.8 134.4,926.3" fill="#dadada" stroke="#000" stroke-width="1.3" stroke-linejoin="round"/>
<polygon points="154.1,923.7 175.4,912.9 175.4,919.8 154.1,929.8" fill="#a9a9a9" stroke="#000" stroke-width="1.3" stroke-linejoin="round"/>
<polygon points="134.4,919.8 150.7,910.1 175.4,912.9 154.1,923.7" fill="#7b7b7c" stroke="#000" stroke-width="1.3" stroke-linejoin="round"/>
<polygon points="159.9,925.6 202.8,933.7 202.8,943 159.9,930.7" fill="#dadada" stroke="#000" stroke-width="1.3" stroke-linejoin="round"/>
<polygon points="202.8,933.7 230.6,923.7 230.6,937.2 202.8,943" fill="#c6c6c6" stroke="#000" stroke-width="1.3" stroke-linejoin="round"/>
<polygon points="159.9,925.6 186.6,913.3 230.6,923.7 202.8,933.7" fill="#7b7b7c" stroke="#000" stroke-width="1.3" stroke-linejoin="round"/>
<polygon points="239.8,938.3 294.3,946.4 294.3,960.8 239.8,942.5" fill="#dadada" stroke="#000" stroke-width="1.3" stroke-linejoin="round"/>
<polygon points="294.3,946.4 322.8,933.7 322.8,948.8 294.3,960.8" fill="#a9a9a9" stroke="#000" stroke-width="1.3" stroke-linejoin="round"/>
<polygon points="239.8,938.3 268.8,924.4 322.8,933.7 294.3,946.4" fill="#7b7b7c" stroke="#000" stroke-width="1.3" stroke-linejoin="round"/>
<polygon points="212.5,956.2 251,960.8 251,981.7 212.5,979.3" fill="#dadada" stroke="#000" stroke-width="1.3" stroke-linejoin="round"/>
<polygon points="251,960.8 278.1,949.5 278.1,973.8 251,981.7" fill="#a9a9a9" stroke="#000" stroke-width="1.3" stroke-linejoin="round"/>
<polygon points="212.5,956.2 231.7,941.8 278.1,949.5 251,960.8" fill="#7b7b7c" stroke="#000" stroke-width="1.3" stroke-linejoin="round"/>
<polygon points="303.5,958 352.2,967.3 352.2,983.5 303.5,971.9" fill="#dadada" stroke="#000" stroke-width="1.3" stroke-linejoin="round"/>
<polygon points="352.2,967.3 370.7,955.7 370.7,971.9 352.2,983.5" fill="#a9a9a9" stroke="#000" stroke-width="1.3" stroke-linejoin="round"/>
<polygon points="303.5,958 331.3,947.6 370.7,955.7 352.2,967.3" fill="#7b7b7c" stroke="#000" stroke-width="1.3" stroke-linejoin="round"/>
<polygon points="327.9,965 352.2,967.3 352.2,983.5 327.9,981.2" fill="#dadada" stroke="#000" stroke-width="1"/>
<polygon points="279.2,966.1 310.5,971.9 310.5,983.5 279.2,977.7" fill="#dadada" stroke="#000" stroke-width="1.3" stroke-linejoin="round"/>
<polygon points="310.5,971.9 326.7,965 326.7,981.2 310.5,983.5" fill="#a9a9a9" stroke="#000" stroke-width="1.3" stroke-linejoin="round"/>
<polygon points="279.2,966.1 296.6,958.7 326.7,965 310.5,971.9" fill="#7b7b7c" stroke="#000" stroke-width="1.3" stroke-linejoin="round"/>
<polygon points="361.4,960.3 399.7,967.3 399.7,981.2 361.4,978.9" fill="#c6c6c6" stroke="#000" stroke-width="1.3" stroke-linejoin="round"/>
<polygon points="399.7,967.3 436.7,955.7 436.7,981.2 399.7,981.2" fill="#b2b2b3" stroke="#000" stroke-width="1.3" stroke-linejoin="round"/>
<polygon points="361.4,960.3 398.5,944.1 436.7,955.7 399.7,967.3" fill="#7b7b7c" stroke="#000" stroke-width="1.3" stroke-linejoin="round"/>
<polygon points="428.6,961.5 466.8,973.8 466.8,999.7 428.6,990.5" fill="#c6c6c6" stroke="#000" stroke-width="1.3" stroke-linejoin="round"/>
<polygon points="466.8,973.8 513.2,963.8 513.2,973.1 466.8,999.7" fill="#dadada" stroke="#000" stroke-width="1.3" stroke-linejoin="round"/>
<polygon points="428.6,961.5 475,949.9 513.2,963.8 466.8,973.8" fill="#7b7b7c" stroke="#000" stroke-width="1.3" stroke-linejoin="round"/>
<polygon points="541,962.7 578.5,980 578.5,999 541,974.7" fill="#b2b2b3" stroke="#000" stroke-width="1.3" stroke-linejoin="round"/>
<polygon points="578.5,980 613,971.5 613,995.1 578.5,999" fill="#dadada" stroke="#000" stroke-width="1.3" stroke-linejoin="round"/>
<polygon points="541,962.7 575.7,955.7 613,971.5 578.5,980" fill="#7b7b7c" stroke="#000" stroke-width="1.3" stroke-linejoin="round"/>
<polygon points="517.8,970.1 534,978.9 534,990.5 517.8,979.3" fill="#b2b2b3" stroke="#000" stroke-width="1.3" stroke-linejoin="round"/>
<polygon points="534,978.9 558.3,976.6 558.3,988.1 534,990.5" fill="#dadada" stroke="#000" stroke-width="1.3" stroke-linejoin="round"/>
<polygon points="517.8,970.1 543.3,966.6 558.3,976.6 534,978.9" fill="#7b7b7c" stroke="#000" stroke-width="1.3" stroke-linejoin="round"/>
<polygon points="155.3,963.8 212,939.5 212,990.5 155.3,1018.3" fill="#a9a9a9" stroke="#000" stroke-width="1"/>
<polygon points="86.9,955.2 155.3,963.8 155.3,1018.3 128.6,1014.8 86.9,990" fill="#dadada" stroke="#000" stroke-width="1"/>
<polygon points="86.9,937.6 114.7,925.6 212,939.5 155.3,963.8 86.9,955.2" fill="#7b7b7c" stroke="#000" stroke-width="1"/>
<polygon points="219,982.3 272.3,991.6 272.3,1004.4 219,992.8" fill="#dadada" stroke="#000" stroke-width="1.3" stroke-linejoin="round"/>
<polygon points="272.3,991.6 297.7,981.2 297.7,985.8 272.3,1004.4" fill="#a9a9a9" stroke="#000" stroke-width="1.3" stroke-linejoin="round"/>
<polygon points="219,982.3 239.8,970.8 297.7,981.2 272.3,991.6" fill="#7b7b7c" stroke="#000" stroke-width="1.3" stroke-linejoin="round"/>
<polygon points="278.1,991.6 308.2,998.6 308.2,1024 278.1,1004.4" fill="#c6c6c6" stroke="#000" stroke-width="1.3" stroke-linejoin="round"/>
<polygon points="308.2,998.6 349.9,989.3 349.9,1015.9 308.2,1024" fill="#cdcdcd" stroke="#000" stroke-width="1.3" stroke-linejoin="round"/>
<polygon points="278.1,991.6 315.1,980.7 349.9,989.3 308.2,998.6" fill="#7b7b7c" stroke="#000" stroke-width="1.3" stroke-linejoin="round"/>
<polygon points="197,999.7 227.1,1008.5 227.1,1034.9 197,1024" fill="#b2b2b3" stroke="#000" stroke-width="1.3" stroke-linejoin="round"/>
<polygon points="227.1,1008.5 252.6,1002 252.6,1009 227.1,1034.9" fill="#a9a9a9" stroke="#000" stroke-width="1.3" stroke-linejoin="round"/>
<polygon points="197,999.7 216.7,992.8 252.6,1002 227.1,1008.5" fill="#7b7b7c" stroke="#000" stroke-width="1.3" stroke-linejoin="round"/>
<polygon points="352.2,983.5 395,993.9 395,1013.6 352.2,1010.1" fill="#c6c6c6" stroke="#000" stroke-width="1.3" stroke-linejoin="round"/>
<polygon points="395,993.9 435.6,982.8 435.6,1009 395,1013.6" fill="#b2b2b3" stroke="#000" stroke-width="1.3" stroke-linejoin="round"/>
<polygon points="352.2,983.5 391.6,971.2 435.6,982.8 395,993.9" fill="#7b7b7c" stroke="#000" stroke-width="1.3" stroke-linejoin="round"/>
<polygon points="478.4,977.7 497,985.1 497,1010.8 478.4,1004.4" fill="#b2b2b3" stroke="#000" stroke-width="1.3" stroke-linejoin="round"/>
<polygon points="497,985.1 530.5,980 530.5,1004.4 497,1010.8" fill="#dadada" stroke="#000" stroke-width="1.3" stroke-linejoin="round"/>
<polygon points="478.4,977.7 505.1,971.9 530.5,980 497,985.1" fill="#7b7b7c" stroke="#000" stroke-width="1.3" stroke-linejoin="round"/>
<polygon points="525.9,995.1 545.6,1004.4 545.6,1027.5 525.9,1018.3" fill="#b2b2b3" stroke="#000" stroke-width="1.3" stroke-linejoin="round"/>
<polygon points="545.6,1004.4 583.8,996.2 583.8,1005.5 545.6,1027.5" fill="#dadada" stroke="#000" stroke-width="1.3" stroke-linejoin="round"/>
<polygon points="525.9,995.1 561.8,986.5 583.8,996.2 545.6,1004.4" fill="#7b7b7c" stroke="#000" stroke-width="1.3" stroke-linejoin="round"/>
<polygon points="235.2,1011.3 267.6,1022.9 267.6,1042.6 235.2,1032.1" fill="#c6c6c6" stroke="#000" stroke-width="1"/>
<polygon points="267.6,1022.9 291.3,1021.7 291.3,1042.6 267.6,1042.6" fill="#dadada" stroke="#000" stroke-width="1"/>
<polygon points="291.3,1021.7 314,1015.9 314,1042.6 291.3,1042.6" fill="#b2b2b3" stroke="#000" stroke-width="1"/>
<polygon points="235.2,1011.3 271.1,1002.7 314,1015.9 291.3,1021.7 267.6,1022.9" fill="#7b7b7c" stroke="#000" stroke-width="1"/>
<polygon points="363.8,1018.3 369.6,1022.9 369.6,1042.6 363.8,1042.6" fill="#b2b2b3" stroke="#000" stroke-width="1"/>
<polygon points="369.6,1022.9 433.7,1021.7 433.7,1042.6 369.6,1042.6" fill="#dadada" stroke="#000" stroke-width="1"/>
<polygon points="363.8,1018.3 411.2,1010.8 433.7,1021.7 369.6,1022.9" fill="#7b7b7c" stroke="#000" stroke-width="1"/>
<polygon points="466.8,1018.3 477.3,1022.9 477.3,1042.6 466.8,1042.6" fill="#b2b2b3" stroke="#000" stroke-width="1"/>
<polygon points="477.3,1022.9 517.8,1021.7 517.8,1042.6 477.3,1042.6" fill="#dadada" stroke="#000" stroke-width="1"/>
<polygon points="517.8,1021.7 538.7,1019.4 538.7,1042.6 517.8,1042.6" fill="#b2b2b3" stroke="#000" stroke-width="1"/>
<polygon points="466.8,1018.3 510.9,1010.1 538.7,1019.4 517.8,1021.7 477.3,1022.9" fill="#7b7b7c" stroke="#000" stroke-width="1"/>
<polygon points="86.9,1008.5 97.4,1011.3 97.4,1037.9 86.9,1035.6" fill="#b2b2b3" stroke="#000" stroke-width="1"/>
<polygon points="97.4,1011.3 127.5,1003.2 127.5,1028.7 97.4,1037.9" fill="#c6c6c6" stroke="#000" stroke-width="1"/>
<polygon points="86.9,993.2 127.5,1003.2 97.4,1011.3 86.9,1008.5" fill="#7b7b7c" stroke="#000" stroke-width="1"/>
<polygon points="86.9,987 93.9,989.3 92.7,993.9 86.9,993.2" fill="#dadada" stroke="#000" stroke-width="1"/>
<polygon points="546.8,1006.7 575.7,1018.2 575.7,1044.2 546.8,1029.7" fill="#b2b2b3" stroke="#000" stroke-width="1.3" stroke-linejoin="round"/>
<polygon points="575.7,1018.2 637.8,1009.3 637.8,1035.3 575.7,1044.2" fill="#dadada" stroke="#000" stroke-width="1.3" stroke-linejoin="round"/>
<polygon points="546.8,1006.7 607.1,996.3 637.8,1009.3 575.7,1018.2" fill="#7b7b7c" stroke="#000" stroke-width="1.3" stroke-linejoin="round"/>
<polygon points="670.4,982.1 760.6,990.9 760.6,1016.8 670.4,1008.1" fill="#dadada" stroke="#000" stroke-width="1.3" stroke-linejoin="round"/>
<polygon points="760.6,990.9 792.5,964.9 792.5,991.6 760.6,1016.8" fill="#787879" stroke="#000" stroke-width="1.3" stroke-linejoin="round"/>
<polygon points="670.4,982.1 701.6,956.6 792.5,964.9 760.6,990.9" fill="#7b7b7c" stroke="#000" stroke-width="1.3" stroke-linejoin="round"/>
</g></defs>
<g clip-path="url(#sclip)"><use href="#scn"/>
<rect x="149.9" y="642.9" width="81.2" height="35.9" fill="#bfbfbf"/>
<text x="151.9" y="672.7" fill="#000" font-family="Liberation Serif" font-size="28" font-weight="bold" stroke="#000" stroke-width="0.45" textLength="78.3" lengthAdjust="spacingAndGlyphs" xml:space="preserve">PDAM</text>
<rect x="144.1" y="748" width="74.9" height="25.5" fill="#bfbfbf"/>
<text x="145" y="769.4" fill="#000" font-family="Liberation Serif" font-size="19" font-weight="bold" textLength="73.6" lengthAdjust="spacingAndGlyphs" xml:space="preserve">Meteran</text>
<rect x="749.3" y="610.1" width="160.7" height="35.9" fill="#bfbfbf"/>
<text x="750.5" y="639.6" fill="#000" font-family="Liberation Serif" font-size="27" font-weight="bold" stroke="#000" stroke-width="0.45" textLength="158.5" lengthAdjust="spacingAndGlyphs" xml:space="preserve">Massa Servis</text>
<polyline points="829.6,610.1 829.6,646" fill="none" stroke="#aaa" stroke-width="0.6"/>
<polyline points="190.5,679.5 190.5,747" fill="none" stroke="#3b64ad" stroke-width="2.6"/>
<polyline points="185.5,739 190.5,747 195.5,739" fill="none" stroke="#3b64ad" stroke-width="2.6" stroke-linecap="round" stroke-linejoin="miter"/>
<polyline points="221,768.5 694.3,712.9" fill="none" stroke="#3b64ad" stroke-width="2.6"/>
<polyline points="686.9,718.8 694.3,712.9 685.8,708.9" fill="none" stroke="#3b64ad" stroke-width="2.6" stroke-linecap="round" stroke-linejoin="miter"/>
<polyline points="713.4,692.8 740.5,632.6" fill="none" stroke="#3b64ad" stroke-width="2.6"/>
<polyline points="741.8,641.9 740.5,632.6 732.7,637.8" fill="none" stroke="#3b64ad" stroke-width="2.6" stroke-linecap="round" stroke-linejoin="miter"/>
<polyline points="830.3,653.8 780.7,691.6" fill="none" stroke="#3b64ad" stroke-width="2.6"/>
<polyline points="784,682.8 780.7,691.6 790.1,690.7" fill="none" stroke="#3b64ad" stroke-width="2.6" stroke-linecap="round" stroke-linejoin="miter"/>
<polyline points="905.8,760 830.3,655" fill="none" stroke="#3b64ad" stroke-width="2.6"/>
<polyline points="839,658.6 830.3,655 830.9,664.4" fill="none" stroke="#3b64ad" stroke-width="2.6" stroke-linecap="round" stroke-linejoin="miter"/>
<polyline points="976,800 920,632.6" fill="none" stroke="#3b64ad" stroke-width="2.6"/>
<polyline points="927.3,638.6 920,632.6 917.8,641.8" fill="none" stroke="#3b64ad" stroke-width="2.6" stroke-linecap="round" stroke-linejoin="miter"/>
<polyline points="780.2,721 780.2,747" fill="none" stroke="#3b64ad" stroke-width="2.6"/>
<polyline points="775.2,739 780.2,747 785.2,739" fill="none" stroke="#3b64ad" stroke-width="2.6" stroke-linecap="round" stroke-linejoin="miter"/>
<polyline points="760,744.1 494.6,767.4" fill="none" stroke="#3b64ad" stroke-width="2.6"/>
<polyline points="502.1,761.7 494.6,767.4 503,771.7" fill="none" stroke="#3b64ad" stroke-width="2.6" stroke-linecap="round" stroke-linejoin="miter"/>
<polyline points="760,744.1 779,742.3" fill="none" stroke="#3b64ad" stroke-width="2.6"/>
<polyline points="786.1,743.5 876.8,812.7" fill="none" stroke="#3b64ad" stroke-width="2.6"/>
<polyline points="867.4,811.8 876.8,812.7 873.5,803.9" fill="none" stroke="#3b64ad" stroke-width="2.6" stroke-linecap="round" stroke-linejoin="miter"/>
<polyline points="740,825.2 876.8,813.5" fill="none" stroke="#3b64ad" stroke-width="2.6"/>
<polyline points="869.3,819.2 876.8,813.5 868.4,809.2" fill="none" stroke="#3b64ad" stroke-width="2.6" stroke-linecap="round" stroke-linejoin="miter"/>
<polyline points="876.8,813.5 631.7,834.7" fill="none" stroke="#3b64ad" stroke-width="2.6"/>
<polyline points="639.2,829 631.7,834.7 640.1,839" fill="none" stroke="#3b64ad" stroke-width="2.6" stroke-linecap="round" stroke-linejoin="miter"/>
<polyline points="481.5,780.2 481.5,811.5" fill="none" stroke="#48752b" stroke-width="3.1"/>
<polyline points="476,802.5 481.5,811.5 487,802.5" fill="none" stroke="#48752b" stroke-width="3.1" stroke-linecap="round" stroke-linejoin="miter"/>
<polyline points="498.6,799.5 861.1,757.1" fill="none" stroke="#48752b" stroke-width="3.1"/>
<polyline points="852.8,763.6 861.1,757.1 851.5,752.7" fill="none" stroke="#48752b" stroke-width="3.1" stroke-linecap="round" stroke-linejoin="miter"/>
<polyline points="606.9,876.4 487.4,815.5" fill="none" stroke="#48752b" stroke-width="3.1"/>
<polyline points="497.9,814.7 487.4,815.5 492.9,824.5" fill="none" stroke="#48752b" stroke-width="3.1" stroke-linecap="round" stroke-linejoin="miter"/>
<polyline points="621.3,850 621.3,875.6" fill="none" stroke="#48752b" stroke-width="3.1"/>
<polyline points="615.8,866.6 621.3,875.6 626.8,866.6" fill="none" stroke="#48752b" stroke-width="3.1" stroke-linecap="round" stroke-linejoin="miter"/>
<polyline points="842,860.5 633.3,876" fill="none" stroke="#48752b" stroke-width="3.1"/>
<polyline points="641.9,869.8 633.3,876 642.7,880.8" fill="none" stroke="#48752b" stroke-width="3.1" stroke-linecap="round" stroke-linejoin="miter"/>
<polyline points="895.7,825 895.7,856.3" fill="none" stroke="#48752b" stroke-width="3.1"/>
<polyline points="890.2,847.3 895.7,856.3 901.2,847.3" fill="none" stroke="#48752b" stroke-width="3.1" stroke-linecap="round" stroke-linejoin="miter"/>
<rect x="695.2" y="693.2" width="34.5" height="38" fill="#4472C4" stroke="#5b86d0" stroke-width="0.8"/>
<text x="712.5" y="720.2" fill="#0b1220" font-family="Liberation Sans" font-size="23" text-anchor="middle" xml:space="preserve">A</text>
<rect x="766.5" y="692.3" width="24.1" height="28.7" fill="#4472C4" stroke="#5b86d0" stroke-width="0.8"/>
<text x="778.5" y="714" fill="#0b1220" font-family="Liberation Sans" font-size="21" text-anchor="middle" xml:space="preserve">D</text>
<rect x="890.8" y="760.8" width="30.5" height="29.3" fill="#4472C4" stroke="#5b86d0" stroke-width="0.8"/>
<text x="906" y="783.2" fill="#0b1220" font-family="Liberation Sans" font-size="22" text-anchor="middle" xml:space="preserve">C</text>
<rect x="960" y="799.8" width="33.8" height="37.6" fill="#4472C4" stroke="#5b86d0" stroke-width="0.8"/>
<text x="976.9" y="826.6" fill="#0b1220" font-family="Liberation Sans" font-size="23" text-anchor="middle" xml:space="preserve">B</text>
<rect x="870.3" y="741.9" width="19.6" height="18.4" fill="#70AD47" stroke="#5c9438" stroke-width="0.8"/>
<circle cx="481" cy="767.4" r="12" fill="#4472C4" stroke="#5f8ad6" stroke-width="0.8"/>
<circle cx="619.7" cy="837.5" r="11.7" fill="#4472C4" stroke="#5f8ad6" stroke-width="0.8"/>
<circle cx="892" cy="814.3" r="11.9" fill="#4472C4" stroke="#5f8ad6" stroke-width="0.8"/>
<rect x="827.2" y="671" width="5.9" height="62" fill="#000"/>
<polygon points="830.2,655.5 820.8,672 839.4,672" fill="#000"/>
</g>
<line x1="733" y1="493.9" x2="1103" y2="493.9" stroke="#111" stroke-width="1.2"/>
<g transform="translate(1062.5,-3)"><g clip-path="url(#sclip)"><use href="#scn"/></g></g>
<clipPath id="sclip2"><rect x="1152.2" y="490.3" width="1013.2" height="547.4"/></clipPath><g clip-path="url(#sclip2)">
<ellipse cx="1635.5" cy="772.5" rx="450" ry="131.6" fill="#ED7D31" fill-opacity="0.56"/>
<polyline points="1630.7,760.2 1815.9,737.1" fill="none" stroke="#ED7D31" stroke-width="3"/>
<polyline points="1861.6,739.5 1900,736.1 1917,753" fill="none" stroke="#ED7D31" stroke-width="3"/>
<polyline points="1585,756.3 1517.6,769.3 1532,781.8" fill="none" stroke="#ED7D31" stroke-width="3"/>
<polyline points="1605.7,794.8 1666.8,839" fill="none" stroke="#ED7D31" stroke-width="3"/>
<polyline points="1724.5,842 1885.7,822.3" fill="none" stroke="#ED7D31" stroke-width="3"/>
<polyline points="1924.1,797.2 1936.2,770.8" fill="none" stroke="#ED7D31" stroke-width="3"/>
<polyline points="1953,754 1974.7,785.2" fill="none" stroke="#ED7D31" stroke-width="3"/>
<rect x="1633.5" y="671" width="4" height="64" fill="#ED7D31"/>
<polygon points="1635.5,659 1625.5,677 1645.5,677" fill="#ED7D31"/>
<circle cx="1839" cy="738.5" r="23" fill="#F5B71A" fill-opacity="0.68"/>
<text x="1839" y="747" fill="#17263c" font-family="Liberation Serif" font-size="25" font-weight="bold" text-anchor="middle" xml:space="preserve">A</text>
<circle cx="1605.7" cy="759.7" r="21.6" fill="#F5B71A" fill-opacity="0.68"/>
<text x="1605.7" y="768.2" fill="#17263c" font-family="Liberation Serif" font-size="25" font-weight="bold" text-anchor="middle" xml:space="preserve">B</text>
<circle cx="1700.4" cy="842" r="24" fill="#F5B71A" fill-opacity="0.68"/>
<text x="1700.4" y="850.5" fill="#17263c" font-family="Liberation Serif" font-size="25" font-weight="bold" text-anchor="middle" xml:space="preserve">C</text>
<circle cx="1905.9" cy="819.8" r="24" fill="#F5B71A" fill-opacity="0.68"/>
<text x="1905.9" y="828.3" fill="#17263c" font-family="Liberation Serif" font-size="25" font-weight="bold" text-anchor="middle" xml:space="preserve">D</text>
<circle cx="1933.8" cy="753" r="19" fill="#F5B71A" fill-opacity="0.68"/>
<text x="1933.8" y="761.5" fill="#17263c" font-family="Liberation Serif" font-size="25" font-weight="bold" text-anchor="middle" xml:space="preserve">E</text>
<rect x="1811" y="607.2" width="161.3" height="35.1" fill="#bfbfbf"/>
<text x="1812.5" y="636" fill="#000" font-family="Liberation Serif" font-size="27" font-weight="bold" stroke="#000" stroke-width="0.45" textLength="158" lengthAdjust="spacingAndGlyphs" xml:space="preserve">Massa Servis</text>
<rect x="2035.8" y="607.2" width="54.3" height="35.1" fill="#bfbfbf"/>
<text x="2037.5" y="636" fill="#000" font-family="Liberation Serif" font-size="27" font-weight="bold" stroke="#000" stroke-width="0.45" textLength="51" lengthAdjust="spacingAndGlyphs" xml:space="preserve">PLN</text>
<polyline points="2025,627.4 1977,627.4" fill="none" stroke="#ED7D31" stroke-width="2.4"/>
<polyline points="1985,621.9 1977,627.4 1985,632.9" fill="none" stroke="#ED7D31" stroke-width="2.4" stroke-linecap="round" stroke-linejoin="miter"/>
<rect x="1887.7" y="666" width="5.6" height="63" fill="#000"/>
<polygon points="1890.5,650.5 1881.5,667.5 1899.5,667.5" fill="#000"/>
</g>
<line x1="2035" y1="490.9" x2="2165.5" y2="490.9" stroke="#111" stroke-width="1.2"/>
<!-- sec_plan -->
<defs><clipPath id="pclip"><rect x="62" y="1085" width="707" height="423.5"/></clipPath><pattern id="dots" width="4" height="4" patternUnits="userSpaceOnUse"><rect x="0" y="0" width="1.3" height="1.3" fill="#000" opacity="0.02"/></pattern></defs>
<g clip-path="url(#pclip)">
<rect x="62" y="1085" width="707" height="423.5" fill="#cfcfd0"/>
<rect x="62" y="1085" width="707" height="423.5" fill="url(#dots)"/>
<polygon points="178.9,1083.3 229.1,1083.3 213,1140.1 128.4,1257.9 85.5,1317.5 117.4,1510.1 91,1510.1 64.7,1348 59.2,1349.4 59.2,1266.2 168.6,1111" fill="#999c9c" stroke="#222" stroke-width="0.8"/>
<polygon points="623.4,1083.3 646.7,1083.3 646.7,1224.7 771.4,1438.1 771.4,1481 717.4,1391 623.4,1233" fill="#999c9c" stroke="#222" stroke-width="0.8"/>
<path d="M623.4,1105.5 L478.2,1105.5 A18.6,18.6 0 0 0 478.2,1142.9 L623.4,1142.9 Z" fill="#999c9c" stroke="#222" stroke-width="0.8"/>
<rect x="621.7" y="1105.8" width="3.3" height="36.9" fill="#999c9c"/>
<polygon points="59.2,1083.3 90.2,1083.3 90.2,1110.5 59.2,1110.5" fill="#ececec" stroke="#111" stroke-width="0.9" stroke-linejoin="round"/>
<polygon points="105.7,1093.6 127.6,1093.6 127.6,1127.7 105.7,1127.7" fill="#ececec" stroke="#111" stroke-width="0.9" stroke-linejoin="round"/>
<polygon points="59.2,1149.3 79.9,1149.3 79.9,1179.8 59.2,1179.8" fill="#ececec" stroke="#111" stroke-width="0.9" stroke-linejoin="round"/>
<polygon points="237.9,1121.3 267,1131.8 254.6,1169.2 225.5,1157.6" fill="#ececec" stroke="#111" stroke-width="0.9" stroke-linejoin="round"/>
<polygon points="287.8,1086.6 313.3,1099.4 297.5,1136.5 270.6,1124.3" fill="#ececec" stroke="#111" stroke-width="0.9" stroke-linejoin="round"/>
<polygon points="307.8,1135.4 324.4,1155.4 298.9,1176.2 283.7,1155.4" fill="#ececec" stroke="#111" stroke-width="0.9" stroke-linejoin="round"/>
<polygon points="298.9,1080.5 333.5,1083.3 328,1094.4 304.4,1086.1" fill="#ececec" stroke="#111" stroke-width="0.9" stroke-linejoin="round"/>
<polygon points="59.2,1399.3 68.3,1399.3 68.3,1424.8 59.2,1424.8" fill="#ececec" stroke="#111" stroke-width="0.9" stroke-linejoin="round"/>
<polygon points="59.2,1432 71.1,1432 71.1,1458.9 59.2,1458.9" fill="#ececec" stroke="#111" stroke-width="0.9" stroke-linejoin="round"/>
<polygon points="66.6,1478.3 84.9,1480.2 84.1,1506.8 66.6,1505.4" fill="#ececec" stroke="#111" stroke-width="0.9" stroke-linejoin="round"/>
<polygon points="59.2,1223.3 65.5,1226.9 62.8,1230.8 59.2,1229.1" fill="#ececec" stroke="#111" stroke-width="0.9" stroke-linejoin="round"/>
<polygon points="681.3,1083.3 716,1088.9 704.9,1125.4 670.8,1116" fill="#ececec" stroke="#111" stroke-width="0.9" stroke-linejoin="round"/>
<polygon points="124.6,1254.8 248.2,1255.8 378.5,1204 475,1143.1 622.9,1143.1 622.9,1232.8 717,1390.2 591.8,1456.2 478.4,1485 376.8,1485 85.7,1318.4" fill="#7f7f80" stroke="#000" stroke-width="1.6" stroke-linejoin="round"/>
<polygon points="248.2,1255.8 253.3,1268.3 292.2,1252.4 378.5,1211.8 378.5,1204" fill="#7f7f80" stroke="#000" stroke-width="1"/>
<polygon points="293.9,1253.1 378.5,1211.8 478.4,1156.6 534.2,1156.6 568.1,1195.6 609.7,1173.6 612.1,1185.4 625.6,1239.6 698.4,1385.1 591.8,1444.4 478.4,1471.5 381.9,1471.5 365,1439.3" fill="#68a834" stroke="#1e3a10" stroke-width="0.8"/>
<polygon points="341.3,1447.8 368.4,1438.6 381.9,1471.5" fill="#68a834" stroke="#1e3a10" stroke-width="0.8"/>
<polygon points="534.2,1156.6 609.7,1156.6 609.7,1173.6 568.1,1195.6" fill="#7f7f80" stroke="#000" stroke-width="0.9"/>
<polygon points="117.4,1273.2 253.2,1273.2 232.4,1282.9 211.6,1290.6 203.3,1275.1 117.4,1275.1" fill="#68a834" stroke="#1e3a10" stroke-width="0.6"/>
<polygon points="210.2,1291.2 231,1283.4 269.8,1377.1 249,1386" fill="#999c9c" stroke="#333" stroke-width="0.6"/>
<polygon points="233.8,1282.9 253.2,1274.6 300.3,1389.6 278.9,1398.7" fill="#999c9c" stroke="#333" stroke-width="0.6"/>
<polyline points="213.7,1299.8 234.5,1291.9" fill="none" stroke="#555" stroke-width="0.5"/>
<polyline points="237.9,1293.4 257.5,1285" fill="none" stroke="#555" stroke-width="0.5"/>
<polyline points="217.3,1308.4 238.1,1300.5" fill="none" stroke="#555" stroke-width="0.5"/>
<polyline points="242,1303.9 261.7,1295.5" fill="none" stroke="#555" stroke-width="0.5"/>
<polyline points="220.8,1317 241.6,1309" fill="none" stroke="#555" stroke-width="0.5"/>
<polyline points="246.1,1314.5 266,1305.9" fill="none" stroke="#555" stroke-width="0.5"/>
<polyline points="224.3,1325.7 245.1,1317.5" fill="none" stroke="#555" stroke-width="0.5"/>
<polyline points="250.2,1325 270.3,1316.4" fill="none" stroke="#555" stroke-width="0.5"/>
<polyline points="227.8,1334.3 248.6,1326" fill="none" stroke="#555" stroke-width="0.5"/>
<polyline points="254.3,1335.5 274.6,1326.8" fill="none" stroke="#555" stroke-width="0.5"/>
<polyline points="231.4,1342.9 252.2,1334.5" fill="none" stroke="#555" stroke-width="0.5"/>
<polyline points="258.4,1346.1 278.9,1337.3" fill="none" stroke="#555" stroke-width="0.5"/>
<polyline points="234.9,1351.5 255.7,1343" fill="none" stroke="#555" stroke-width="0.5"/>
<polyline points="262.5,1356.6 283.2,1347.8" fill="none" stroke="#555" stroke-width="0.5"/>
<polyline points="238.4,1360.1 259.2,1351.6" fill="none" stroke="#555" stroke-width="0.5"/>
<polyline points="266.6,1367.1 287.4,1358.2" fill="none" stroke="#555" stroke-width="0.5"/>
<polyline points="242,1368.7 262.7,1360.1" fill="none" stroke="#555" stroke-width="0.5"/>
<polyline points="270.7,1377.7 291.7,1368.7" fill="none" stroke="#555" stroke-width="0.5"/>
<polyline points="245.5,1377.4 266.3,1368.6" fill="none" stroke="#555" stroke-width="0.5"/>
<polyline points="274.8,1388.2 296,1379.1" fill="none" stroke="#555" stroke-width="0.5"/>
<polygon points="249,1386 269.8,1377.1 278.9,1398.7" fill="#68a834" stroke="#1e3a10" stroke-width="0.6"/>
<polygon points="341.9,1447.8 365.4,1438.1 382.1,1470" fill="#68a834" stroke="#1e3a10" stroke-width="0.6"/>
<polygon points="131.2,1294 141.8,1294 142.3,1295.9 131.8,1295.9" fill="#999c9c" stroke="#707070" stroke-width="0.3"/>
<polygon points="132.1,1296.9 142.6,1296.9 143.2,1298.8 132.7,1298.8" fill="#999c9c" stroke="#707070" stroke-width="0.3"/>
<polygon points="133,1299.8 143.5,1299.8 144.1,1301.7 133.5,1301.7" fill="#999c9c" stroke="#707070" stroke-width="0.3"/>
<polygon points="133.9,1302.7 144.4,1302.7 145,1304.6 134.4,1304.6" fill="#999c9c" stroke="#707070" stroke-width="0.3"/>
<polygon points="134.8,1305.6 145.3,1305.6 145.9,1307.5 135.3,1307.5" fill="#999c9c" stroke="#707070" stroke-width="0.3"/>
<polygon points="135.7,1308.5 146.2,1308.5 146.7,1310.4 136.2,1310.4" fill="#999c9c" stroke="#707070" stroke-width="0.3"/>
<polygon points="136.5,1311.4 147.1,1311.4 147.6,1313.4 137.1,1313.4" fill="#999c9c" stroke="#707070" stroke-width="0.3"/>
<polygon points="137.4,1314.3 148,1314.3 148.5,1316.3 138,1316.3" fill="#999c9c" stroke="#707070" stroke-width="0.3"/>
<polygon points="138.3,1317.2 148.8,1317.2 149.4,1319.2 138.9,1319.2" fill="#999c9c" stroke="#707070" stroke-width="0.3"/>
<polygon points="147.8,1294 158.4,1294 158.9,1295.9 148.4,1295.9" fill="#999c9c" stroke="#707070" stroke-width="0.3"/>
<polygon points="148.7,1296.9 159.3,1296.9 159.8,1298.8 149.3,1298.8" fill="#999c9c" stroke="#707070" stroke-width="0.3"/>
<polygon points="149.6,1299.8 160.2,1299.8 160.7,1301.7 150.2,1301.7" fill="#999c9c" stroke="#707070" stroke-width="0.3"/>
<polygon points="150.5,1302.7 161,1302.7 161.6,1304.6 151.1,1304.6" fill="#999c9c" stroke="#707070" stroke-width="0.3"/>
<polygon points="151.4,1305.6 161.9,1305.6 162.5,1307.5 152,1307.5" fill="#999c9c" stroke="#707070" stroke-width="0.3"/>
<polygon points="152.3,1308.5 162.8,1308.5 163.4,1310.4 152.8,1310.4" fill="#999c9c" stroke="#707070" stroke-width="0.3"/>
<polygon points="153.2,1311.4 163.7,1311.4 164.3,1313.4 153.7,1313.4" fill="#999c9c" stroke="#707070" stroke-width="0.3"/>
<polygon points="154.1,1314.3 164.6,1314.3 165.1,1316.3 154.6,1316.3" fill="#999c9c" stroke="#707070" stroke-width="0.3"/>
<polygon points="154.9,1317.2 165.5,1317.2 166,1319.2 155.5,1319.2" fill="#999c9c" stroke="#707070" stroke-width="0.3"/>
<polygon points="163.6,1292.6 174.2,1292.6 174.7,1294.5 164.2,1294.5" fill="#999c9c" stroke="#707070" stroke-width="0.3"/>
<polygon points="164.5,1295.5 175.1,1295.5 175.6,1297.4 165.1,1297.4" fill="#999c9c" stroke="#707070" stroke-width="0.3"/>
<polygon points="165.4,1298.4 176,1298.4 176.5,1300.3 166,1300.3" fill="#999c9c" stroke="#707070" stroke-width="0.3"/>
<polygon points="166.3,1301.3 176.8,1301.3 177.4,1303.2 166.9,1303.2" fill="#999c9c" stroke="#707070" stroke-width="0.3"/>
<polygon points="167.2,1304.2 177.7,1304.2 178.3,1306.2 167.7,1306.2" fill="#999c9c" stroke="#707070" stroke-width="0.3"/>
<polygon points="168.1,1307.1 178.6,1307.1 179.2,1309.1 168.6,1309.1" fill="#999c9c" stroke="#707070" stroke-width="0.3"/>
<polygon points="169,1310 179.5,1310 180.1,1312 169.5,1312" fill="#999c9c" stroke="#707070" stroke-width="0.3"/>
<polygon points="169.9,1312.9 180.4,1312.9 180.9,1314.9 170.4,1314.9" fill="#999c9c" stroke="#707070" stroke-width="0.3"/>
<polygon points="170.7,1315.9 181.3,1315.9 181.8,1317.8 171.3,1317.8" fill="#999c9c" stroke="#707070" stroke-width="0.3"/>
<polygon points="171.6,1318.8 182.2,1318.8 182.7,1320.7 172.2,1320.7" fill="#999c9c" stroke="#707070" stroke-width="0.3"/>
<polygon points="161.7,1328.6 172.2,1328.6 172.8,1330.5 162.3,1330.5" fill="#999c9c" stroke="#707070" stroke-width="0.3"/>
<polygon points="162.6,1331.5 173.1,1331.5 173.7,1333.5 163.1,1333.5" fill="#999c9c" stroke="#707070" stroke-width="0.3"/>
<polygon points="163.5,1334.4 174,1334.4 174.6,1336.4 164,1336.4" fill="#999c9c" stroke="#707070" stroke-width="0.3"/>
<polygon points="164.4,1337.3 174.9,1337.3 175.5,1339.3 164.9,1339.3" fill="#999c9c" stroke="#707070" stroke-width="0.3"/>
<polygon points="165.3,1340.2 175.8,1340.2 176.3,1342.2 165.8,1342.2" fill="#999c9c" stroke="#707070" stroke-width="0.3"/>
<polygon points="166.1,1343.2 176.7,1343.2 177.2,1345.1 166.7,1345.1" fill="#999c9c" stroke="#707070" stroke-width="0.3"/>
<polygon points="178.3,1328.6 188.9,1328.6 189.4,1330.5 178.9,1330.5" fill="#999c9c" stroke="#707070" stroke-width="0.3"/>
<polygon points="179.2,1331.5 189.8,1331.5 190.3,1333.5 179.8,1333.5" fill="#999c9c" stroke="#707070" stroke-width="0.3"/>
<polygon points="180.1,1334.4 190.6,1334.4 191.2,1336.4 180.7,1336.4" fill="#999c9c" stroke="#707070" stroke-width="0.3"/>
<polygon points="181,1337.3 191.5,1337.3 192.1,1339.3 181.6,1339.3" fill="#999c9c" stroke="#707070" stroke-width="0.3"/>
<polygon points="181.9,1340.2 192.4,1340.2 193,1342.2 182.4,1342.2" fill="#999c9c" stroke="#707070" stroke-width="0.3"/>
<polygon points="182.8,1343.2 193.3,1343.2 193.9,1345.1 183.3,1345.1" fill="#999c9c" stroke="#707070" stroke-width="0.3"/>
<polygon points="183.7,1346.1 194.2,1346.1 194.7,1348 184.2,1348" fill="#999c9c" stroke="#707070" stroke-width="0.3"/>
<polygon points="184.5,1349 195.1,1349 195.6,1350.9 185.1,1350.9" fill="#999c9c" stroke="#707070" stroke-width="0.3"/>
<polygon points="185.4,1351.9 196,1351.9 196.5,1353.8 186,1353.8" fill="#999c9c" stroke="#707070" stroke-width="0.3"/>
<polygon points="186.3,1354.8 196.9,1354.8 197.4,1356.7 186.9,1356.7" fill="#999c9c" stroke="#707070" stroke-width="0.3"/>
<polyline points="139.5,1264.9 231,1264.9" fill="none" stroke="#111" stroke-width="0.9"/>
<polyline points="225.5,1261.3 231,1264.9 224.6,1266.8" fill="none" stroke="#111" stroke-width="0.9"/>
<polyline points="197.7,1283.7 125.7,1283.7" fill="none" stroke="#111" stroke-width="0.9"/>
<polyline points="132.1,1281.5 125.7,1283.7 132.1,1286.2" fill="none" stroke="#111" stroke-width="0.9"/>
<polyline points="228.2,1388.2 197.7,1310.6" fill="none" stroke="#111" stroke-width="0.9"/>
<polyline points="196.4,1316.7 197.7,1310.6 204.1,1312.8" fill="none" stroke="#111" stroke-width="0.9"/>
<polyline points="275.3,1274 326.6,1402.1" fill="none" stroke="#111" stroke-width="0.9"/>
<polyline points="318.9,1397.9 326.6,1402.1 328,1393.7" fill="none" stroke="#111" stroke-width="0.9"/>
<polyline points="132.6,1257.9 249,1256.5" fill="none" stroke="#111" stroke-width="0.9"/>
<polyline points="185.3,1354.9 316.9,1436.7" fill="none" stroke="#111" stroke-width="0.9"/>
<polygon points="311.4,1256.5 362.1,1238 382.1,1287 330.8,1307.3" fill="#a6d4a1" stroke="#111" stroke-width="0.9"/>
<polygon points="371,1257.9 394.5,1249.6 405.6,1278.7 382.1,1287" fill="#a6d4a1" stroke="#111" stroke-width="0.9"/>
<polygon points="326.6,1318.9 354.3,1309.2 363.2,1335.5 335.5,1345.2" fill="#a6d4a1" stroke="#111" stroke-width="0.9"/>
<polygon points="346,1348 393.7,1330.5 443,1446.4 391.8,1464.4" fill="#a6d4a1" stroke="#111" stroke-width="0.9"/>
<polygon points="387,1226.1 513.6,1179.8 537.2,1235.8 409.7,1287" fill="#b7e1d0" stroke="#111" stroke-width="0.9"/>
<polygon points="422.2,1285.6 503.9,1252.4 508.6,1264.9 427.7,1296.7" fill="#b7e1d0" stroke="#111" stroke-width="0.9"/>
<polygon points="513.6,1179.8 537.2,1169.2 545.5,1187.3 522,1198.3" fill="#a6d4a1" stroke="#111" stroke-width="0.9"/>
<polygon points="522,1199.7 549.7,1191.4 558,1219.1 533,1228.8" fill="#a6d4a1" stroke="#111" stroke-width="0.9"/>
<polygon points="563,1192.8 585.1,1183.1 607.9,1244.1 585.7,1253.8" fill="#b7e1d0" stroke="#111" stroke-width="0.9"/>
<polygon points="587.1,1180.3 605.1,1172 611.2,1189.2 592.6,1197" fill="#68a834" stroke="#111" stroke-width="0.9"/>
<polygon points="579.6,1256.5 606.5,1246.3 614.8,1266.2 588.5,1275.9" fill="#a6d4a1" stroke="#111" stroke-width="0.9"/>
<polygon points="558.5,1288.4 597.3,1273.2 638.4,1382.6 602.3,1396.5" fill="#a6d4a1" stroke="#111" stroke-width="0.9"/>
<polygon points="597.3,1275.9 627.8,1265.4 682.7,1363.2 638.4,1382.6" fill="#cfe2f0" stroke="#111" stroke-width="0.9"/>
<polygon points="627.8,1269 638.4,1295.3 621.7,1300.9 613.4,1280.1" fill="#cfe2f0" stroke="#111" stroke-width="0.9"/>
<polygon points="459.6,1422.8 569.1,1382.6 581.5,1418.7 472.1,1461.6" fill="#a6d4a1" stroke="#111" stroke-width="0.9"/>
<polygon points="569.1,1382.6 591.2,1372.9 602.3,1400.7 580.2,1410.4" fill="#a6d4a1" stroke="#111" stroke-width="0.9"/>
<polygon points="429.1,1417.3 451.3,1409 467.9,1458.9 447.1,1467.2" fill="#a6d4a1" stroke="#111" stroke-width="0.9"/>
<g transform="translate(577.4,1194.7) rotate(70)"><rect x="-1" y="-7" width="54" height="10" fill="#d8d8d8"/><text x="0" y="2" font-family="Liberation Serif" font-weight="bold" font-size="9.5" textLength="52" lengthAdjust="spacingAndGlyphs">Massa Servis</text></g>
<rect x="119.3" y="1117.1" width="80.9" height="35.5" fill="#bfbfbf"/>
<text x="120.5" y="1146" fill="#000" font-family="Liberation Serif" font-size="29" font-weight="bold" stroke="#000" stroke-width="0.45" textLength="78.5" lengthAdjust="spacingAndGlyphs" xml:space="preserve">PDAM</text>
<rect x="122.1" y="1225.5" width="74.8" height="24.9" fill="#bfbfbf"/>
<text x="123" y="1246.3" fill="#000" font-family="Liberation Serif" font-size="19" font-weight="bold" textLength="73.5" lengthAdjust="spacingAndGlyphs" xml:space="preserve">Meteran</text>
<polyline points="160.3,1154 160.3,1221.5" fill="none" stroke="#3b64ad" stroke-width="2.6"/>
<polyline points="155.8,1214.5 160.3,1221.5 164.8,1214.5" fill="none" stroke="#3b64ad" stroke-width="2.6" stroke-linecap="round" stroke-linejoin="miter"/>
<polyline points="196.4,1244.1 516,1160.5" fill="none" stroke="#3b64ad" stroke-width="2.6"/>
<polyline points="510.4,1166.6 516,1160.5 508.1,1157.9" fill="none" stroke="#3b64ad" stroke-width="2.6" stroke-linecap="round" stroke-linejoin="miter"/>
<polyline points="535,1160.9 574.1,1192.8" fill="none" stroke="#3b64ad" stroke-width="2.6"/>
<polyline points="565.8,1191.9 574.1,1192.8 571.5,1184.9" fill="none" stroke="#3b64ad" stroke-width="2.6" stroke-linecap="round" stroke-linejoin="miter"/>
<polyline points="530.3,1211.4 357.5,1276.5" fill="none" stroke="#3b64ad" stroke-width="2.6"/>
<polyline points="362.5,1269.8 357.5,1276.5 365.6,1278.2" fill="none" stroke="#3b64ad" stroke-width="2.6" stroke-linecap="round" stroke-linejoin="miter"/>
<polyline points="542.7,1223.3 601.8,1364.6" fill="none" stroke="#3b64ad" stroke-width="2.6"/>
<polyline points="594.9,1359.9 601.8,1364.6 603.2,1356.4" fill="none" stroke="#3b64ad" stroke-width="2.6" stroke-linecap="round" stroke-linejoin="miter"/>
<polyline points="601.8,1364.6 542.7,1223.3" fill="none" stroke="#3b64ad" stroke-width="2.6"/>
<polyline points="549.6,1228 542.7,1223.3 541.3,1231.5" fill="none" stroke="#3b64ad" stroke-width="2.6" stroke-linecap="round" stroke-linejoin="miter"/>
<polyline points="605.1,1386.8 466.5,1440.9" fill="none" stroke="#3b64ad" stroke-width="2.6"/>
<polyline points="471.4,1434.1 466.5,1440.9 474.7,1442.5" fill="none" stroke="#3b64ad" stroke-width="2.6" stroke-linecap="round" stroke-linejoin="miter"/>
<polyline points="564.9,1230.2 544.1,1223.3" fill="none" stroke="#3b64ad" stroke-width="2.6"/>
<polyline points="552.2,1221.2 544.1,1223.3 549.3,1229.8" fill="none" stroke="#3b64ad" stroke-width="2.6" stroke-linecap="round" stroke-linejoin="miter"/>
<polyline points="613.4,1289 603.7,1263.5" fill="none" stroke="#3b64ad" stroke-width="2.6"/>
<polyline points="610.4,1268.4 603.7,1263.5 602,1271.6" fill="none" stroke="#3b64ad" stroke-width="2.6" stroke-linecap="round" stroke-linejoin="miter"/>
<polyline points="673,1361.9 605.3,1265.3" fill="none" stroke="#3b64ad" stroke-width="2.6"/>
<polygon points="600.1,1257.9 609.4,1262.4 601.2,1268.2" fill="#3b64ad"/>
<polyline points="340,1263.5 599.6,1169.2" fill="none" stroke="#3f6b26" stroke-width="2.4"/>
<polyline points="594.6,1175.8 599.6,1169.2 591.5,1167.4" fill="none" stroke="#3f6b26" stroke-width="2.4" stroke-linecap="round" stroke-linejoin="miter"/>
<polyline points="619,1385.4 619,1407.6" fill="none" stroke="#3f6b26" stroke-width="2.4"/>
<polyline points="614.5,1400.6 619,1407.6 623.5,1400.6" fill="none" stroke="#3f6b26" stroke-width="2.4" stroke-linecap="round" stroke-linejoin="miter"/>
<polyline points="619,1406.2 581.5,1418.7" fill="none" stroke="#3f6b26" stroke-width="2.4"/>
<polyline points="581.5,1418.7 481.8,1460.3" fill="none" stroke="#3f6b26" stroke-width="2.4"/>
<polyline points="486.5,1453.4 481.8,1460.3 490,1461.7" fill="none" stroke="#3f6b26" stroke-width="2.4" stroke-linecap="round" stroke-linejoin="miter"/>
<polyline points="466.5,1458.9 356,1291" fill="none" stroke="#3f6b26" stroke-width="2.4"/>
<polyline points="363.6,1294.4 356,1291 356.1,1299.3" fill="none" stroke="#3f6b26" stroke-width="2.4" stroke-linecap="round" stroke-linejoin="miter"/>
<polyline points="462.4,1449.2 467.9,1458.9 480.4,1458.9" fill="none" stroke="#3f6b26" stroke-width="2.4"/>
<rect x="516.4" y="1149.8" width="18.6" height="19.4" fill="#4472C4" stroke="#3a62a8" stroke-width="0.7"/>
<text x="525.7" y="1164.8" fill="#0b1220" font-family="Liberation Sans" font-size="15" text-anchor="middle" xml:space="preserve">A</text>
<rect x="530.3" y="1201.9" width="18" height="19.2" fill="#4472C4" stroke="#3a62a8" stroke-width="0.7"/>
<text x="539.3" y="1216.8" fill="#0b1220" font-family="Liberation Sans" font-size="15" text-anchor="middle" xml:space="preserve">D</text>
<rect x="604.5" y="1289" width="18.9" height="18.8" fill="#4472C4" stroke="#3a62a8" stroke-width="0.7"/>
<text x="614" y="1303.7" fill="#0b1220" font-family="Liberation Sans" font-size="15" text-anchor="middle" xml:space="preserve">C</text>
<rect x="665.2" y="1361.9" width="19.4" height="19.9" fill="#4472C4" stroke="#3a62a8" stroke-width="0.7"/>
<text x="674.9" y="1377.1" fill="#0b1220" font-family="Liberation Sans" font-size="15" text-anchor="middle" xml:space="preserve">B</text>
<circle cx="344.6" cy="1278.2" r="11.6" fill="#4472C4" stroke="#3a62a8" stroke-width="0.6"/>
<circle cx="612" cy="1376.6" r="11.6" fill="#4472C4" stroke="#3a62a8" stroke-width="0.6"/>
<circle cx="452.1" cy="1443.6" r="11.6" fill="#4472C4" stroke="#3a62a8" stroke-width="0.6"/>
</g>
<!-- sec_bottom -->
<text x="815.2" y="1077" fill="#1b2a41" font-family="Liberation Serif" font-size="25.5" textLength="134.5" lengthAdjust="spacingAndGlyphs" xml:space="preserve">Keterangan :</text>
<text x="863.1" y="1106.6" fill="#1b2a41" font-family="Liberation Serif" font-size="25.5" textLength="179.5" lengthAdjust="spacingAndGlyphs" xml:space="preserve">= Tandon Bawah</text>
<text x="863.1" y="1135.5" fill="#1b2a41" font-family="Liberation Serif" font-size="25.5" textLength="136.9" lengthAdjust="spacingAndGlyphs" xml:space="preserve">= Sumur Bor</text>
<text x="863.1" y="1164.7" fill="#1b2a41" font-family="Liberation Serif" font-size="25.5" textLength="205.5" lengthAdjust="spacingAndGlyphs" xml:space="preserve">= Area Pengelolaan</text>
<text x="863.1" y="1193.6" fill="#1b2a41" font-family="Liberation Serif" font-size="25.5" textLength="154.8" lengthAdjust="spacingAndGlyphs" xml:space="preserve">= Tandon Atas</text>
<text x="863.1" y="1221.5" fill="#1b2a41" font-family="Liberation Serif" font-size="25.5" textLength="167.9" lengthAdjust="spacingAndGlyphs" xml:space="preserve">= Ruang Pompa</text>
<text x="863.1" y="1250.2" fill="#1b2a41" font-family="Liberation Serif" font-size="25.5" textLength="189" lengthAdjust="spacingAndGlyphs" xml:space="preserve">= Area Distribusi.</text>
<text x="863.1" y="1279.1" fill="#1b2a41" font-family="Liberation Serif" font-size="25.5" textLength="67.6" lengthAdjust="spacingAndGlyphs" xml:space="preserve">=  STP</text>
<rect x="811" y="1089.5" width="19.8" height="19.2" fill="#4472C4" stroke="#2f5597" stroke-width="0.8"/>
<text x="820.9" y="1104.7" fill="#0b1220" font-family="Liberation Sans" font-size="16" text-anchor="middle" xml:space="preserve">A</text>
<rect x="811" y="1118.2" width="19.8" height="19.4" fill="#4472C4" stroke="#2f5597" stroke-width="0.8"/>
<text x="820.9" y="1133.5" fill="#0b1220" font-family="Liberation Sans" font-size="16" text-anchor="middle" xml:space="preserve">B</text>
<rect x="811" y="1148.2" width="19.8" height="19.4" fill="#4472C4" stroke="#2f5597" stroke-width="0.8"/>
<text x="820.9" y="1163.5" fill="#0b1220" font-family="Liberation Sans" font-size="16" text-anchor="middle" xml:space="preserve">C</text>
<rect x="811" y="1174.2" width="19.8" height="19.4" fill="#4472C4" stroke="#2f5597" stroke-width="0.8"/>
<text x="820.9" y="1189.5" fill="#0b1220" font-family="Liberation Sans" font-size="16" text-anchor="middle" xml:space="preserve">D</text>
<rect x="793.9" y="1209.8" width="55.1" height="10.6" fill="#bfbfbf"/>
<text x="794.5" y="1218.6" fill="#000" font-family="Liberation Serif" font-size="9.5" font-weight="bold" textLength="54" lengthAdjust="spacingAndGlyphs" xml:space="preserve">Massa Servis</text>
<circle cx="822" cy="1242.6" r="12" fill="#4472C4" stroke="#5f8ad6" stroke-width="0.6"/>
<rect x="808.9" y="1262.2" width="20" height="18.4" fill="#70AD47" stroke="#5c9438" stroke-width="0.8"/>
<text x="798.1" y="1315.6" fill="#1b2a41" font-family="Liberation Serif" font-size="22" textLength="85.1" lengthAdjust="spacingAndGlyphs" xml:space="preserve">Terdapat</text>
<text x="890.6" y="1315.6" fill="#1b2a41" font-family="Liberation Serif" font-size="22" font-weight="bold" textLength="235.9" lengthAdjust="spacingAndGlyphs" xml:space="preserve">water treatment system</text>
<text x="798.1" y="1341" fill="#1b2a41" font-family="Liberation Serif" font-size="22" textLength="327.9" lengthAdjust="spacingAndGlyphs" xml:space="preserve">untuk sumber air masuk ke tapak</text>
<text x="798.1" y="1366.7" fill="#1b2a41" font-family="Liberation Serif" font-size="22" textLength="294.1" lengthAdjust="spacingAndGlyphs" xml:space="preserve">sebelum masuk ke tandon atas.</text>
<circle cx="892" cy="1406.6" r="29.8" fill="#8E888A"/>
<circle cx="892" cy="1405.7" r="21.3" fill="#4B4546"/>
<rect x="828.2" y="1458.1" width="127.7" height="45.9" fill="#6B7D33"/>
<path d="M870.8,1478 L870.8,1425 Q870.8,1408.5 892,1408.5 Q913.3,1408.5 913.3,1425 L913.3,1478 Z" fill="#A0A846"/>
<rect x="862.3" y="1440.6" width="59.5" height="48" rx="8" fill="#A0A846"/>
<circle cx="868" cy="1481.3" r="11.8" fill="#A0A846"/>
<circle cx="919" cy="1476.5" r="11.3" fill="#A0A846"/>
<circle cx="881.2" cy="1492.6" r="12.3" fill="#A0A846"/>
<circle cx="905.8" cy="1492.6" r="12.3" fill="#A0A846"/>
<circle cx="893" cy="1485" r="14" fill="#A0A846"/>
<path d="M883.5,1419.8 V1448.2 M883.5,1453.9 V1478.4 M898.2,1412.3 V1431.2 M898.2,1436.8 V1465.2" stroke="#939B3B" stroke-width="4.2" fill="none"/>
<polygon points="836.9,1440.2 845.3,1440.2 847.1,1446.8 853.8,1447.2 853.8,1458.1 836.9,1458.1" fill="#F6D55C"/>
<rect x="932.2" y="1424.1" width="12.8" height="7.5" rx="3.5" fill="#7A9EB8"/>
<rect x="934.9" y="1431.2" width="7.7" height="9.4" fill="#93B3C9"/>
<rect x="930.1" y="1440.6" width="16.8" height="17.5" rx="1.5" fill="#7A9EB8"/>
<rect x="836.9" y="1466.2" width="10.4" height="9.8" fill="#5C86A8"/>
<rect x="836.9" y="1476" width="10.4" height="9.1" fill="#7BA7D0"/>
<rect x="938.8" y="1478.9" width="8.6" height="12.8" fill="#F6D55C"/>
<rect x="923.2" y="1463.8" width="26" height="4.2" fill="#2E5E33"/>
<rect x="930.3" y="1492.2" width="25.6" height="3.7" fill="#2E5E33"/>
<rect x="839.1" y="1494" width="14.7" height="3.8" fill="#2E5E33"/>
<rect x="975.3" y="1402" width="152.2" height="26" fill="#92D050" stroke="#3fae49" stroke-width="1.2"/>
<text x="1014.5" y="1424" fill="#000" font-family="Liberation Serif" font-size="29" font-weight="bold" stroke="#000" stroke-width="0.45" textLength="72.8" lengthAdjust="spacingAndGlyphs" xml:space="preserve">Toilet</text>
<rect x="975.3" y="1436.8" width="152.2" height="28.8" fill="#92D050" stroke="#3fae49" stroke-width="1.2"/>
<text x="999.3" y="1460.2" fill="#000" font-family="Liberation Serif" font-size="29" font-weight="bold" stroke="#000" stroke-width="0.45" textLength="103.9" lengthAdjust="spacingAndGlyphs" xml:space="preserve">Mushola</text>
<rect x="975.3" y="1472.3" width="152.2" height="26.1" fill="#92D050" stroke="#3fae49" stroke-width="1.2"/>
<text x="987.1" y="1493.3" fill="#000" font-family="Liberation Serif" font-size="29" font-weight="bold" stroke="#000" stroke-width="0.45" textLength="127.2" lengthAdjust="spacingAndGlyphs" xml:space="preserve">Foodcourt</text>
<rect x="1176.6" y="1429" width="74.8" height="36.6" fill="#92D050" stroke="#3fae49" stroke-width="1.2"/>
<text x="1188.8" y="1455.1" fill="#000" font-family="Liberation Serif" font-size="29" font-weight="bold" stroke="#000" stroke-width="0.45" textLength="50.4" lengthAdjust="spacingAndGlyphs" xml:space="preserve">STP</text>
<polyline points="1127.5,1414.8 1167.5,1441.6" fill="none" stroke="#000" stroke-width="1.8"/>
<polygon points="1174.2,1446 1165.5,1444.5 1169.5,1438.6" fill="#000"/>
<polyline points="1127.5,1451 1166.2,1448.2" fill="none" stroke="#000" stroke-width="1.8"/>
<polygon points="1174.2,1447.6 1166.5,1451.8 1166,1444.6" fill="#000"/>
<polyline points="1127.5,1484.9 1167.8,1454.1" fill="none" stroke="#000" stroke-width="1.8"/>
<polygon points="1174.2,1449.3 1170,1457 1165.7,1451.3" fill="#000"/>
<polyline points="1251.4,1446.6 1307.9,1446.6 1307.9,1536.3 1283.2,1536.3" fill="none" stroke="#000" stroke-width="1.3"/>
<rect x="830.1" y="1522.1" width="453.5" height="28.1" fill="#FFC000" stroke="#c79a10" stroke-width="1"/>
<circle cx="1251.4" cy="1446.6" r="3.6" fill="#000"/>
<circle cx="1283.2" cy="1536.3" r="3.6" fill="#000"/>
<text x="852.1" y="1541.4" fill="#000" font-family="Liberation Serif" font-size="22" textLength="409.1" lengthAdjust="spacingAndGlyphs" xml:space="preserve">Gabungan antara Septic Tank &amp; Sumur Resapan.</text>
<rect x="1159.5" y="1067.2" width="404.5" height="148.8" fill="#fff"/>
<rect x="1159.5" y="1068.5" width="404.5" height="5.5" fill="#2b2b2b"/>
<rect x="1159.5" y="1211" width="404.5" height="5" fill="#2b2b2b"/>
<rect x="1159.5" y="1067.2" width="6.5" height="148.8" fill="#2b2b2b"/>
<rect x="1238.8" y="1067.2" width="6.7" height="148.8" fill="#2b2b2b"/>
<rect x="1312.6" y="1067.2" width="5.6" height="148.8" fill="#2b2b2b"/>
<rect x="1395.7" y="1067.2" width="5.7" height="148.8" fill="#2b2b2b"/>
<rect x="1478.9" y="1067.2" width="4.7" height="148.8" fill="#2b2b2b"/>
<rect x="1559.3" y="1067.2" width="4.7" height="148.8" fill="#2b2b2b"/>
<rect x="1159.5" y="1144" width="80.5" height="5" fill="#2b2b2b"/>
<rect x="1168" y="1152" width="68" height="57" fill="none" stroke="#555" stroke-width="1"/>
<rect x="1226" y="1074" width="7" height="6" fill="#2b2b2b"/>
<rect x="1300" y="1074" width="7" height="6" fill="#2b2b2b"/>
<rect x="1383" y="1074" width="7" height="6" fill="#2b2b2b"/>
<rect x="1466" y="1074" width="7" height="6" fill="#2b2b2b"/>
<rect x="1547" y="1074" width="7" height="6" fill="#2b2b2b"/>
<rect x="1191.8" y="1080.8" width="20.4" height="18.2" fill="#c9c9c9"/>
<rect x="1171.4" y="1098.8" width="61.2" height="18.2" fill="#c9c9c9"/>
<rect x="1176.5" y="1121.4" width="51" height="18.2" fill="#c9c9c9"/>
<rect x="1265.8" y="1113.8" width="20.4" height="18.2" fill="#c9c9c9"/>
<rect x="1245.4" y="1136.2" width="61.2" height="18.2" fill="#c9c9c9"/>
<rect x="1250.5" y="1159.2" width="51" height="18.2" fill="#c9c9c9"/>
<rect x="1312.2" y="1125.2" width="81.5" height="18.2" fill="#c9c9c9"/>
<rect x="1327.5" y="1147.8" width="51" height="18.2" fill="#c9c9c9"/>
<rect x="1402.4" y="1099.7" width="61.2" height="18.2" fill="#c9c9c9"/>
<rect x="1407.5" y="1122.4" width="51" height="18.2" fill="#c9c9c9"/>
<rect x="1176.4" y="1159.2" width="61.2" height="18.2" fill="#c9c9c9"/>
<rect x="1181.5" y="1179.1" width="51" height="18.2" fill="#c9c9c9"/>
<rect x="1181.5" y="1200.8" width="51" height="18.2" fill="#c9c9c9"/>
<rect x="1506.8" y="1136.2" width="20.4" height="18.2" fill="#c9c9c9"/>
<rect x="1491.5" y="1159.2" width="51" height="18.2" fill="#c9c9c9"/>
<rect x="1491.5" y="1181.8" width="51" height="18.2" fill="#c9c9c9"/>
<clipPath id="fpc"><rect x="1159.5" y="1060" width="404.5" height="163"/></clipPath><g clip-path="url(#fpc)">
<ellipse cx="1206.7" cy="1183.8" rx="37.5" ry="35" fill="#FFC933" fill-opacity="0.72"/><ellipse cx="1276.3" cy="1140.3" rx="31.8" ry="40.6" fill="#FFC933" fill-opacity="0.72"/><ellipse cx="1352.3" cy="1140.9" rx="37.8" ry="33.6" fill="#FFC933" fill-opacity="0.72"/><ellipse cx="1434.5" cy="1117.7" rx="37.8" ry="34" fill="#FFC933" fill-opacity="0.72"/>
<circle cx="1517.7" cy="1166.2" r="42" fill="#45BDF2" fill-opacity="0.78"/>
<text x="1202" y="1095" fill="#111" font-family="Liberation Sans" font-size="18.2" font-weight="bold" text-anchor="middle" xml:space="preserve">R.</text>
<text x="1202" y="1113" fill="#111" font-family="Liberation Sans" font-size="18.2" font-weight="bold" text-anchor="middle" xml:space="preserve">Sampah</text>
<text x="1202" y="1135.6" fill="#111" font-family="Liberation Sans" font-size="18.2" font-weight="bold" text-anchor="middle" xml:space="preserve">±0.00</text>
<polyline points="1176.5,1138 1227.5,1138" fill="none" stroke="#111" stroke-width="1.1"/>
<text x="1276" y="1128" fill="#7a5b05" font-family="Liberation Sans" font-size="18.2" font-weight="bold" text-anchor="middle" xml:space="preserve">R.</text>
<text x="1276" y="1150.4" fill="#7a5b05" font-family="Liberation Sans" font-size="18.2" font-weight="bold" text-anchor="middle" xml:space="preserve">Genset</text>
<text x="1276" y="1173.4" fill="#7a5b05" font-family="Liberation Sans" font-size="18.2" font-weight="bold" text-anchor="middle" xml:space="preserve">±0.00</text>
<polyline points="1250.5,1175.8 1301.5,1175.8" fill="none" stroke="#7a5b05" stroke-width="1.1"/>
<text x="1353" y="1139.4" fill="#7a5b05" font-family="Liberation Sans" font-size="18.2" font-weight="bold" text-anchor="middle" xml:space="preserve">R. Trafo</text>
<text x="1353" y="1162" fill="#7a5b05" font-family="Liberation Sans" font-size="18.2" font-weight="bold" text-anchor="middle" xml:space="preserve">±0.00</text>
<polyline points="1327.5,1164.4 1378.5,1164.4" fill="none" stroke="#7a5b05" stroke-width="1.1"/>
<text x="1433" y="1113.9" fill="#7a5b05" font-family="Liberation Sans" font-size="18.2" font-weight="bold" text-anchor="middle" xml:space="preserve">R. PLN</text>
<text x="1433" y="1136.6" fill="#7a5b05" font-family="Liberation Sans" font-size="18.2" font-weight="bold" text-anchor="middle" xml:space="preserve">±0.00</text>
<polyline points="1407.5,1139 1458.5,1139" fill="none" stroke="#7a5b05" stroke-width="1.1"/>
<text x="1207" y="1173.4" fill="#7a5b05" font-family="Liberation Sans" font-size="18.2" font-weight="bold" text-anchor="middle" xml:space="preserve">R. MDP</text>
<text x="1207" y="1193.3" fill="#7a5b05" font-family="Liberation Sans" font-size="18.2" font-weight="bold" text-anchor="middle" xml:space="preserve">&amp; SDP</text>
<text x="1207" y="1215" fill="#7a5b05" font-family="Liberation Sans" font-size="18.2" font-weight="bold" text-anchor="middle" xml:space="preserve">±0.00</text>
<text x="1517" y="1150.4" fill="#0b5f88" font-family="Liberation Sans" font-size="18.2" font-weight="bold" text-anchor="middle" xml:space="preserve">R.</text>
<text x="1517" y="1173.4" fill="#0b5f88" font-family="Liberation Sans" font-size="18.2" font-weight="bold" text-anchor="middle" xml:space="preserve">Pompa</text>
<text x="1517" y="1196" fill="#0b5f88" font-family="Liberation Sans" font-size="18.2" font-weight="bold" text-anchor="middle" xml:space="preserve">±0.00</text>
<polyline points="1491.5,1198.4 1542.5,1198.4" fill="none" stroke="#0b5f88" stroke-width="1.1"/>
</g>
<rect x="1158" y="1222" width="399" height="134" fill="#f1f1f6"/>
<rect x="1159.5" y="1226.7" width="390.9" height="69.6" fill="#fbfbfd" stroke="#666" stroke-width="1.1"/>
<polyline points="1159.5,1260.4 1550.4,1260.4" fill="none" stroke="#666" stroke-width="1.1"/>
<polyline points="1254.9,1226.7 1254.9,1296.3" fill="none" stroke="#666" stroke-width="1.1"/>
<polyline points="1280.4,1226.7 1280.4,1296.3" fill="none" stroke="#666" stroke-width="1.1"/>
<polyline points="1305,1226.7 1305,1296.3" fill="none" stroke="#666" stroke-width="1.1"/>
<polyline points="1328.6,1226.7 1328.6,1296.3" fill="none" stroke="#666" stroke-width="1.1"/>
<polyline points="1353.2,1226.7 1353.2,1296.3" fill="none" stroke="#666" stroke-width="1.1"/>
<polyline points="1377.8,1226.7 1377.8,1296.3" fill="none" stroke="#666" stroke-width="1.1"/>
<polyline points="1402.4,1226.7 1402.4,1296.3" fill="none" stroke="#666" stroke-width="1.1"/>
<polyline points="1426.4,1226.7 1426.4,1296.3" fill="none" stroke="#666" stroke-width="1.1"/>
<polyline points="1450.6,1226.7 1450.6,1296.3" fill="none" stroke="#666" stroke-width="1.1"/>
<polyline points="1474.2,1226.7 1474.2,1296.3" fill="none" stroke="#666" stroke-width="1.1"/>
<polyline points="1498.8,1226.7 1498.8,1296.3" fill="none" stroke="#666" stroke-width="1.1"/>
<polyline points="1523.3,1226.7 1523.3,1296.3" fill="none" stroke="#666" stroke-width="1.1"/>
<text x="1168" y="1249" fill="#555" font-family="Liberation Sans" font-size="13" textLength="45.9" lengthAdjust="spacingAndGlyphs" xml:space="preserve">Tinggi (meter)</text>
<text x="1168" y="1285.9" fill="#555" font-family="Liberation Sans" font-size="13" textLength="78" lengthAdjust="spacingAndGlyphs" xml:space="preserve">Radius Proteksi (meter)</text>
<text x="1265.1" y="1249" fill="#555" font-family="Liberation Sans" font-size="14" textLength="5.1" lengthAdjust="spacingAndGlyphs" xml:space="preserve">5</text>
<text x="1262.6" y="1285.9" fill="#555" font-family="Liberation Sans" font-size="14" textLength="10.2" lengthAdjust="spacingAndGlyphs" xml:space="preserve">95</text>
<text x="1287.6" y="1249" fill="#555" font-family="Liberation Sans" font-size="14" textLength="10.2" lengthAdjust="spacingAndGlyphs" xml:space="preserve">10</text>
<text x="1285" y="1285.9" fill="#555" font-family="Liberation Sans" font-size="14" textLength="15.3" lengthAdjust="spacingAndGlyphs" xml:space="preserve">100</text>
<text x="1311.7" y="1249" fill="#555" font-family="Liberation Sans" font-size="14" textLength="10.2" lengthAdjust="spacingAndGlyphs" xml:space="preserve">20</text>
<text x="1309.1" y="1285.9" fill="#555" font-family="Liberation Sans" font-size="14" textLength="15.3" lengthAdjust="spacingAndGlyphs" xml:space="preserve">110</text>
<text x="1335.8" y="1249" fill="#555" font-family="Liberation Sans" font-size="14" textLength="10.2" lengthAdjust="spacingAndGlyphs" xml:space="preserve">30</text>
<text x="1333.2" y="1285.9" fill="#555" font-family="Liberation Sans" font-size="14" textLength="15.3" lengthAdjust="spacingAndGlyphs" xml:space="preserve">120</text>
<text x="1360.4" y="1249" fill="#555" font-family="Liberation Sans" font-size="14" textLength="10.2" lengthAdjust="spacingAndGlyphs" xml:space="preserve">40</text>
<text x="1357.8" y="1285.9" fill="#555" font-family="Liberation Sans" font-size="14" textLength="15.3" lengthAdjust="spacingAndGlyphs" xml:space="preserve">130</text>
<text x="1385" y="1249" fill="#555" font-family="Liberation Sans" font-size="14" textLength="10.2" lengthAdjust="spacingAndGlyphs" xml:space="preserve">50</text>
<text x="1382.4" y="1285.9" fill="#555" font-family="Liberation Sans" font-size="14" textLength="15.3" lengthAdjust="spacingAndGlyphs" xml:space="preserve">140</text>
<text x="1409.3" y="1249" fill="#555" font-family="Liberation Sans" font-size="14" textLength="10.2" lengthAdjust="spacingAndGlyphs" xml:space="preserve">60</text>
<text x="1406.8" y="1285.9" fill="#555" font-family="Liberation Sans" font-size="14" textLength="15.3" lengthAdjust="spacingAndGlyphs" xml:space="preserve">150</text>
<text x="1433.4" y="1249" fill="#555" font-family="Liberation Sans" font-size="14" textLength="10.2" lengthAdjust="spacingAndGlyphs" xml:space="preserve">70</text>
<text x="1430.8" y="1285.9" fill="#555" font-family="Liberation Sans" font-size="14" textLength="15.3" lengthAdjust="spacingAndGlyphs" xml:space="preserve">160</text>
<text x="1457.3" y="1249" fill="#555" font-family="Liberation Sans" font-size="14" textLength="10.2" lengthAdjust="spacingAndGlyphs" xml:space="preserve">80</text>
<text x="1454.8" y="1285.9" fill="#555" font-family="Liberation Sans" font-size="14" textLength="15.3" lengthAdjust="spacingAndGlyphs" xml:space="preserve">170</text>
<text x="1481.4" y="1249" fill="#555" font-family="Liberation Sans" font-size="14" textLength="10.2" lengthAdjust="spacingAndGlyphs" xml:space="preserve">90</text>
<text x="1478.8" y="1285.9" fill="#555" font-family="Liberation Sans" font-size="14" textLength="15.3" lengthAdjust="spacingAndGlyphs" xml:space="preserve">180</text>
<text x="1503.4" y="1249" fill="#555" font-family="Liberation Sans" font-size="14" textLength="15.3" lengthAdjust="spacingAndGlyphs" xml:space="preserve">100</text>
<text x="1503.4" y="1285.9" fill="#555" font-family="Liberation Sans" font-size="14" textLength="15.3" lengthAdjust="spacingAndGlyphs" xml:space="preserve">190</text>
<text x="1529.2" y="1249" fill="#555" font-family="Liberation Sans" font-size="14" textLength="15.3" lengthAdjust="spacingAndGlyphs" xml:space="preserve">110</text>
<text x="1529.2" y="1285.9" fill="#555" font-family="Liberation Sans" font-size="14" textLength="15.3" lengthAdjust="spacingAndGlyphs" xml:space="preserve">200</text>
<rect x="1252.1" y="1224.8" width="28.7" height="71.5" fill="none" stroke="#ED7D31" stroke-width="2.6"/>
<text x="1160.4" y="1323.7" fill="#444" font-family="Liberation Sans" font-size="13.5" textLength="389.4" lengthAdjust="spacingAndGlyphs" xml:space="preserve">Radius proteksi ditetapkan sesuai kapasitas <tspan font-weight="bold">*E.F.* Terminal</tspan> dengan emisi 6x10<tspan font-size="7" dy="-6">12</tspan><tspan dy="6"> elektrons / second</tspan></text>
<text x="1160.4" y="1345.4" fill="#444" font-family="Liberation Sans" font-size="13.5" textLength="257.6" lengthAdjust="spacingAndGlyphs" xml:space="preserve">per milliamp current dengan tingkat sambaran petir rata-rata 25 kA.</text>
<text x="1583" y="1084.5" fill="#1b2a41" font-family="Liberation Serif" font-size="25.5" textLength="531.6" lengthAdjust="spacingAndGlyphs" xml:space="preserve">SDP di kelompokan untuk beberapa massa, yaitu:</text>
<text x="1583" y="1114" fill="#1b2a41" font-family="Liberation Serif" font-size="25.5" textLength="522.7" lengthAdjust="spacingAndGlyphs" xml:space="preserve">SDP A = Massa Utama (Museum &amp; R. Serbaguna)</text>
<text x="1583" y="1142.5" fill="#1b2a41" font-family="Liberation Serif" font-size="25.5" textLength="494.6" lengthAdjust="spacingAndGlyphs" xml:space="preserve">SDP B = Massa Penerima &amp; Massa Pendukung</text>
<text x="1583" y="1171.6" fill="#1b2a41" font-family="Liberation Serif" font-size="25.5" textLength="364.2" lengthAdjust="spacingAndGlyphs" xml:space="preserve">SDP C = Massa Foodcourt &amp; Toko</text>
<text x="1583" y="1200.1" fill="#1b2a41" font-family="Liberation Serif" font-size="25.5" textLength="312.5" lengthAdjust="spacingAndGlyphs" xml:space="preserve">SDP D =Massa Tenun &amp; Jahit</text>
<text x="1583" y="1228.7" fill="#1b2a41" font-family="Liberation Serif" font-size="25.5" textLength="383.9" lengthAdjust="spacingAndGlyphs" xml:space="preserve">SDP E = Massa Pintal &amp; Pewarnaan.</text>
<text x="1679" y="1257.7" fill="#1b2a41" font-family="Liberation Serif" font-size="25.5" textLength="247.5" lengthAdjust="spacingAndGlyphs" xml:space="preserve">Area Pengelola Limbah</text>
<text x="1574.1" y="1313.3" fill="#1b2a41" font-family="Liberation Serif" font-size="28.5" font-weight="bold" stroke="#1b2a41" stroke-width="0.45" textLength="207.2" lengthAdjust="spacingAndGlyphs" xml:space="preserve">Penangkal petir</text>
<text x="1799.6" y="1313.3" fill="#1b2a41" font-family="Liberation Serif" font-size="28.5" textLength="383.9" lengthAdjust="spacingAndGlyphs" xml:space="preserve">diletakkan pada massa utama</text>
<text x="1574.1" y="1345.3" fill="#1b2a41" font-family="Liberation Serif" font-size="28.5" textLength="608.4" lengthAdjust="spacingAndGlyphs" xml:space="preserve">diatas atap. Petir nantinya akan dialirkan ke tanah.</text>
<!-- sec_title -->
<polyline points="1335,1548 1335,1372.8 2211,1372.8" fill="none" stroke="#333" stroke-width="1.4"/>
<polyline points="1553,1372.8 1553,1548" fill="none" stroke="#333" stroke-width="1.3"/>
<polyline points="1947.8,1372.8 1947.8,1548" fill="none" stroke="#333" stroke-width="1.1"/>
<polyline points="1950.2,1372.8 1950.2,1548" fill="none" stroke="#333" stroke-width="1.1"/>
<polyline points="1553,1396.5 1947.8,1396.5" fill="none" stroke="#333" stroke-width="1.3"/>
<polyline points="1553,1456.3 1947.8,1456.3" fill="none" stroke="#333" stroke-width="1.3"/>
<polyline points="1860.3,1456.3 1860.3,1548" fill="none" stroke="#333" stroke-width="1.3"/>
<polyline points="1950.2,1409.5 2211,1409.5" fill="none" stroke="#333" stroke-width="1.3"/>
<polyline points="1950.2,1456.3 2211,1456.3" fill="none" stroke="#333" stroke-width="1.3"/>
<polyline points="2160.9,1409.5 2160.9,1548" fill="none" stroke="#333" stroke-width="1.3"/>
<polyline points="2160.9,1500 2211,1500" fill="none" stroke="#333" stroke-width="1.3"/>
<text x="1614.9" y="1389.2" fill="#000" font-family="Liberation Sans" font-size="13.1" font-weight="bold" textLength="272.2" lengthAdjust="spacingAndGlyphs" xml:space="preserve">TUGAS AKHIR - SEMESTER GANJIL 2022/2023</text>
<text x="1557.3" y="1405.5" fill="#222" font-family="Liberation Sans" font-size="7.6" textLength="52.2" lengthAdjust="spacingAndGlyphs" xml:space="preserve">JUDUL TUGAS</text>
<text x="1607.8" y="1422.6" fill="#000" font-family="Liberation Sans" font-size="12.7" textLength="282.2" lengthAdjust="spacingAndGlyphs" xml:space="preserve">FASILITAS WISATA EDUKASI KAIN TENUN KHAS</text>
<text x="1660.8" y="1436.8" fill="#000" font-family="Liberation Sans" font-size="12.7" textLength="177.3" lengthAdjust="spacingAndGlyphs" xml:space="preserve">LOMBOK DI LOMBOK TENGAH</text>
<text x="1557.3" y="1464.8" fill="#222" font-family="Liberation Sans" font-size="7.6" textLength="59" lengthAdjust="spacingAndGlyphs" xml:space="preserve">JUDUL GAMBAR</text>
<text x="1863.8" y="1464.8" fill="#222" font-family="Liberation Sans" font-size="7.6" textLength="24.2" lengthAdjust="spacingAndGlyphs" xml:space="preserve">SKALA</text>
<text x="1645.7" y="1491.3" fill="#000" font-family="Liberation Sans" font-size="25.9" textLength="121.7" lengthAdjust="spacingAndGlyphs" xml:space="preserve">DIAGRAM</text>
<text x="1596.4" y="1523.2" fill="#000" font-family="Liberation Sans" font-size="25.9" textLength="219.5" lengthAdjust="spacingAndGlyphs" xml:space="preserve">SISTEM UTILITAS</text>
<text x="1351.2" y="1511.8" fill="#000" font-family="Liberation Sans" font-size="12" font-weight="bold" textLength="185.6" lengthAdjust="spacingAndGlyphs" xml:space="preserve">PROGRAM STUDI ARSITEKTUR</text>
<text x="1343.5" y="1522.4" fill="#222" font-family="Liberation Sans" font-size="8.8" textLength="201.6" lengthAdjust="spacingAndGlyphs" xml:space="preserve">FAKULTAS TEKNIK SIPIL DAN PERENCANAAN</text>
<text x="1375.5" y="1532.6" fill="#222" font-family="Liberation Sans" font-size="8.8" textLength="136.2" lengthAdjust="spacingAndGlyphs" xml:space="preserve">UNIVERSITAS KRISTEN PETRA</text>
<text x="1419.1" y="1543.2" fill="#222" font-family="Liberation Sans" font-size="8.8" textLength="49.3" lengthAdjust="spacingAndGlyphs" xml:space="preserve">SURABAYA</text>
<text x="1953.4" y="1383.4" fill="#222" font-family="Liberation Sans" font-size="7.2" textLength="21.4" lengthAdjust="spacingAndGlyphs" xml:space="preserve">NAMA</text>
<text x="1999.5" y="1400" fill="#000" font-family="Liberation Sans" font-size="18.1" textLength="163.7" lengthAdjust="spacingAndGlyphs" xml:space="preserve">ALMIRA WIRAWAN</text>
<text x="1953.4" y="1418.9" fill="#222" font-family="Liberation Sans" font-size="7.2" textLength="15.8" lengthAdjust="spacingAndGlyphs" xml:space="preserve">NRP</text>
<text x="2005.5" y="1441.8" fill="#000" font-family="Liberation Sans" font-size="18.1" textLength="92.9" lengthAdjust="spacingAndGlyphs" xml:space="preserve">B12180005</text>
<text x="2163.6" y="1418.9" fill="#222" font-family="Liberation Sans" font-size="7.2" textLength="42.1" lengthAdjust="spacingAndGlyphs" xml:space="preserve">KELOMPOK</text>
<text x="2185.9" y="1441.8" fill="#000" font-family="Liberation Sans" font-size="18.1" text-anchor="middle" xml:space="preserve">I</text>
<text x="1953.4" y="1465" fill="#222" font-family="Liberation Sans" font-size="7.2" textLength="61.7" lengthAdjust="spacingAndGlyphs" xml:space="preserve">MENTOR UTAMA</text>
<text x="1974.5" y="1482.9" fill="#000" font-family="Liberation Sans" font-size="12.5" textLength="163.7" lengthAdjust="spacingAndGlyphs" xml:space="preserve">IR. WANDA WIDIGDO,  M. SI.</text>
<text x="1953.4" y="1497.7" fill="#222" font-family="Liberation Sans" font-size="7.2" textLength="86.4" lengthAdjust="spacingAndGlyphs" xml:space="preserve">MENTOR PENDAMPING</text>
<text x="1979.4" y="1516.4" fill="#222" font-family="Liberation Sans" font-size="10.8" textLength="134.7" lengthAdjust="spacingAndGlyphs" xml:space="preserve">IR. M.I. ADICIPTO, M. ARCH.</text>
<text x="1979.4" y="1528.3" fill="#222" font-family="Liberation Sans" font-size="10.8" textLength="172.8" lengthAdjust="spacingAndGlyphs" xml:space="preserve">IR. NUGROHO SUSILO, M. BDG. SC.</text>
<text x="2164.1" y="1465" fill="#222" font-family="Liberation Sans" font-size="7.2" textLength="30.8" lengthAdjust="spacingAndGlyphs" xml:space="preserve">LEMBAR</text>
<text x="2164.1" y="1508.7" fill="#222" font-family="Liberation Sans" font-size="7.2" textLength="30.2" lengthAdjust="spacingAndGlyphs" xml:space="preserve">JUMLAH</text>
<circle cx="1443.6" cy="1444.9" r="42.3" fill="#fff" stroke="#111" stroke-width="1.3"/>
<clipPath id="lgc"><circle cx="1443.6" cy="1445.2" r="30.3"/></clipPath>
<polygon points="1412.5,1455 1430.8,1459.1 1443.8,1455 1456.7,1459.1 1474.8,1455 1474.8,1477.8 1412.5,1477.8" fill="#0a0a0a" clip-path="url(#lgc)"/>
<polygon points="1439.1,1465.2 1442.1,1456.7 1445.5,1456.7 1448,1465.2" fill="#fff"/>
<polyline points="1433.2,1464 1437,1460.4" fill="none" stroke="#fff" stroke-width="1.2"/>
<polyline points="1454,1464 1450.2,1460.4" fill="none" stroke="#fff" stroke-width="1.2"/>
<circle cx="1443.6" cy="1445.2" r="30.3" fill="none" stroke="#111" stroke-width="1.2"/>
<path d="M1440.5,1431.5 Q1434.2,1449.9 1414.8,1455 M1440.5,1439.7 Q1437.7,1450.5 1427.1,1456.3 M1446.6,1431.5 Q1453,1449.9 1472.4,1455 M1446.6,1439.7 Q1449.6,1450.5 1460.1,1456.3 M1414.8,1455 Q1422.7,1456 1430.8,1459.1 M1472.4,1455 Q1464.5,1456 1456.7,1459.1" fill="none" stroke="#111" stroke-width="0.9"/>
<polygon points="1440.9,1414.8 1446.4,1414.8 1446.4,1423 1454.3,1423 1454.3,1427.4 1446.4,1427.4 1446.4,1455.6 1440.9,1455.6 1440.9,1427.4 1432.2,1427.4 1432.2,1423 1440.9,1423" fill="#fff" stroke="#111" stroke-width="1"/>
<circle cx="1416.2" cy="1465" r="2" fill="#111"/>
<circle cx="1470.7" cy="1465" r="2" fill="#111"/>
<text transform="translate(1411.9,1438.1) rotate(282.2) scale(0.674,1)" text-anchor="middle" font-family="Liberation Serif" font-weight="bold" font-size="12" fill="#111">U</text>
<text transform="translate(1413.7,1432.5) rotate(292.5) scale(0.674,1)" text-anchor="middle" font-family="Liberation Serif" font-weight="bold" font-size="12" fill="#111">N</text>
<text transform="translate(1415.7,1428.5) rotate(300.5) scale(0.674,1)" text-anchor="middle" font-family="Liberation Serif" font-weight="bold" font-size="12" fill="#111">I</text>
<text transform="translate(1418.2,1424.7) rotate(308.5) scale(0.674,1)" text-anchor="middle" font-family="Liberation Serif" font-weight="bold" font-size="12" fill="#111">V</text>
<text transform="translate(1422.1,1420.7) rotate(318.4) scale(0.674,1)" text-anchor="middle" font-family="Liberation Serif" font-weight="bold" font-size="12" fill="#111">E</text>
<text transform="translate(1426.6,1417.3) rotate(328.4) scale(0.674,1)" text-anchor="middle" font-family="Liberation Serif" font-weight="bold" font-size="12" fill="#111">R</text>
<text transform="translate(1431.2,1415) rotate(337.5) scale(0.674,1)" text-anchor="middle" font-family="Liberation Serif" font-weight="bold" font-size="12" fill="#111">S</text>
<text transform="translate(1434.8,1413.7) rotate(344.3) scale(0.674,1)" text-anchor="middle" font-family="Liberation Serif" font-weight="bold" font-size="12" fill="#111">I</text>
<text transform="translate(1439,1412.8) rotate(351.9) scale(0.674,1)" text-anchor="middle" font-family="Liberation Serif" font-weight="bold" font-size="12" fill="#111">T</text>
<text transform="translate(1444.6,1412.5) rotate(361.8) scale(0.674,1)" text-anchor="middle" font-family="Liberation Serif" font-weight="bold" font-size="12" fill="#111">A</text>
<text transform="translate(1449.8,1413.1) rotate(371) scale(0.674,1)" text-anchor="middle" font-family="Liberation Serif" font-weight="bold" font-size="12" fill="#111">S</text>
<text transform="translate(1456.8,1415.3) rotate(384.1) scale(0.674,1)" text-anchor="middle" font-family="Liberation Serif" font-weight="bold" font-size="12" fill="#111">K</text>
<text transform="translate(1462.1,1418.3) rotate(394.8) scale(0.674,1)" text-anchor="middle" font-family="Liberation Serif" font-weight="bold" font-size="12" fill="#111">R</text>
<text transform="translate(1465.6,1421.1) rotate(402.8) scale(0.674,1)" text-anchor="middle" font-family="Liberation Serif" font-weight="bold" font-size="12" fill="#111">I</text>
<text transform="translate(1468.3,1423.9) rotate(409.6) scale(0.674,1)" text-anchor="middle" font-family="Liberation Serif" font-weight="bold" font-size="12" fill="#111">S</text>
<text transform="translate(1471.2,1427.9) rotate(418.3) scale(0.674,1)" text-anchor="middle" font-family="Liberation Serif" font-weight="bold" font-size="12" fill="#111">T</text>
<text transform="translate(1473.6,1432.7) rotate(427.9) scale(0.674,1)" text-anchor="middle" font-family="Liberation Serif" font-weight="bold" font-size="12" fill="#111">E</text>
<text transform="translate(1475.3,1438.1) rotate(437.8) scale(0.674,1)" text-anchor="middle" font-family="Liberation Serif" font-weight="bold" font-size="12" fill="#111">N</text>
<text transform="translate(1427.3,1482.1) rotate(23.7) scale(0.977,1)" text-anchor="middle" font-family="Liberation Serif" font-weight="bold" font-size="10.2" fill="#111">P</text>
<text transform="translate(1434.7,1484.5) rotate(12.6) scale(0.977,1)" text-anchor="middle" font-family="Liberation Serif" font-weight="bold" font-size="10.2" fill="#111">E</text>
<text transform="translate(1442.8,1485.5) rotate(1.2) scale(0.977,1)" text-anchor="middle" font-family="Liberation Serif" font-weight="bold" font-size="10.2" fill="#111">T</text>
<text transform="translate(1451.1,1484.8) rotate(-10.7) scale(0.977,1)" text-anchor="middle" font-family="Liberation Serif" font-weight="bold" font-size="10.2" fill="#111">R</text>
<text transform="translate(1459.4,1482.3) rotate(-22.9) scale(0.977,1)" text-anchor="middle" font-family="Liberation Serif" font-weight="bold" font-size="10.2" fill="#111">A</text>
</svg></body></html>
